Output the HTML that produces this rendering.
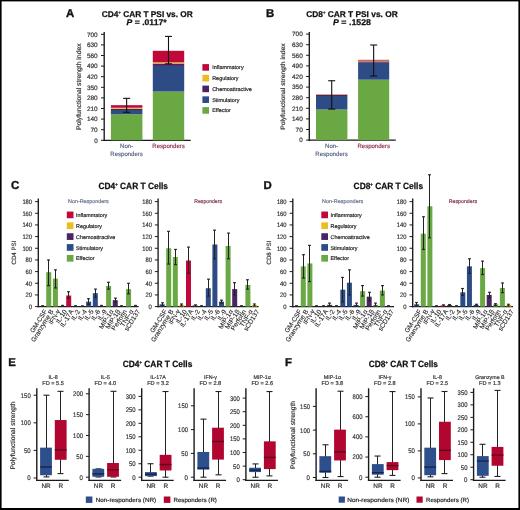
<!DOCTYPE html>
<html><head><meta charset="utf-8"><style>
html,body{margin:0;padding:0;background:#fff;}
svg{display:block;font-family:"Liberation Sans", sans-serif;will-change:transform;text-rendering:geometricPrecision;}
</style></head><body>
<svg width="520" height="510" viewBox="0 0 520 510">
<rect x="0" y="0" width="520" height="510" fill="#fff"/>
<text x="65.90" y="16.60" font-size="11.4" text-anchor="start" fill="#111" font-weight="bold" stroke="#111" stroke-width="0.35">A</text>
<text x="101.8" y="16.6" font-size="8.4" font-weight="bold" fill="#111" stroke="#111" stroke-width="0.25" textLength="91.0" lengthAdjust="spacingAndGlyphs">CD4<tspan font-size="4.20" dy="-2.52">+</tspan><tspan dy="2.52"> CAR T PSI vs. OR</tspan></text>
<text x="126.6" y="25.3" font-size="8.3" font-weight="bold" fill="#111" stroke="#111" stroke-width="0.25" textLength="40.0" lengthAdjust="spacingAndGlyphs"><tspan font-style="italic">P</tspan> = .0117*</text>
<line x1="104.20" y1="32.10" x2="104.20" y2="140.90" stroke="#1a1a1a" stroke-width="1.35"/>
<line x1="103.60" y1="140.30" x2="190.70" y2="140.30" stroke="#1a1a1a" stroke-width="1.25"/>
<line x1="101.00" y1="140.30" x2="104.20" y2="140.30" stroke="#1a1a1a" stroke-width="1.0"/>
<text x="97.70" y="142.60" font-size="6.3" text-anchor="end" fill="#333" textLength="3.5" lengthAdjust="spacingAndGlyphs" stroke="#333" stroke-width="0.18">0</text>
<line x1="101.00" y1="129.70" x2="104.20" y2="129.70" stroke="#1a1a1a" stroke-width="1.0"/>
<text x="97.70" y="132.00" font-size="6.3" text-anchor="end" fill="#333" textLength="7.2" lengthAdjust="spacingAndGlyphs" stroke="#333" stroke-width="0.18">70</text>
<line x1="101.00" y1="119.10" x2="104.20" y2="119.10" stroke="#1a1a1a" stroke-width="1.0"/>
<text x="97.70" y="121.40" font-size="6.3" text-anchor="end" fill="#333" textLength="10.8" lengthAdjust="spacingAndGlyphs" stroke="#333" stroke-width="0.18">140</text>
<line x1="101.00" y1="108.50" x2="104.20" y2="108.50" stroke="#1a1a1a" stroke-width="1.0"/>
<text x="97.70" y="110.80" font-size="6.3" text-anchor="end" fill="#333" textLength="10.8" lengthAdjust="spacingAndGlyphs" stroke="#333" stroke-width="0.18">210</text>
<line x1="101.00" y1="97.90" x2="104.20" y2="97.90" stroke="#1a1a1a" stroke-width="1.0"/>
<text x="97.70" y="100.20" font-size="6.3" text-anchor="end" fill="#333" textLength="10.8" lengthAdjust="spacingAndGlyphs" stroke="#333" stroke-width="0.18">280</text>
<line x1="101.00" y1="87.30" x2="104.20" y2="87.30" stroke="#1a1a1a" stroke-width="1.0"/>
<text x="97.70" y="89.60" font-size="6.3" text-anchor="end" fill="#333" textLength="10.8" lengthAdjust="spacingAndGlyphs" stroke="#333" stroke-width="0.18">350</text>
<line x1="101.00" y1="76.70" x2="104.20" y2="76.70" stroke="#1a1a1a" stroke-width="1.0"/>
<text x="97.70" y="79.00" font-size="6.3" text-anchor="end" fill="#333" textLength="10.8" lengthAdjust="spacingAndGlyphs" stroke="#333" stroke-width="0.18">420</text>
<line x1="101.00" y1="66.10" x2="104.20" y2="66.10" stroke="#1a1a1a" stroke-width="1.0"/>
<text x="97.70" y="68.40" font-size="6.3" text-anchor="end" fill="#333" textLength="10.8" lengthAdjust="spacingAndGlyphs" stroke="#333" stroke-width="0.18">490</text>
<line x1="101.00" y1="55.50" x2="104.20" y2="55.50" stroke="#1a1a1a" stroke-width="1.0"/>
<text x="97.70" y="57.80" font-size="6.3" text-anchor="end" fill="#333" textLength="10.8" lengthAdjust="spacingAndGlyphs" stroke="#333" stroke-width="0.18">560</text>
<line x1="101.00" y1="44.90" x2="104.20" y2="44.90" stroke="#1a1a1a" stroke-width="1.0"/>
<text x="97.70" y="47.20" font-size="6.3" text-anchor="end" fill="#333" textLength="10.8" lengthAdjust="spacingAndGlyphs" stroke="#333" stroke-width="0.18">630</text>
<line x1="101.00" y1="34.30" x2="104.20" y2="34.30" stroke="#1a1a1a" stroke-width="1.0"/>
<text x="97.70" y="36.60" font-size="6.3" text-anchor="end" fill="#333" textLength="10.8" lengthAdjust="spacingAndGlyphs" stroke="#333" stroke-width="0.18">700</text>
<rect x="110.90" y="114.25" width="31.50" height="26.05" fill="#69a843"/>
<rect x="110.90" y="110.01" width="31.50" height="4.24" fill="#2d4b84"/>
<rect x="110.90" y="108.80" width="31.50" height="1.21" fill="#4a2463"/>
<rect x="110.90" y="107.74" width="31.50" height="1.06" fill="#ecbd1f"/>
<rect x="110.90" y="105.17" width="31.50" height="2.57" fill="#c0083a"/>
<line x1="126.65" y1="98.35" x2="126.65" y2="112.29" stroke="#111" stroke-width="1.1"/>
<line x1="123.15" y1="98.35" x2="130.15" y2="98.35" stroke="#111" stroke-width="1.1"/>
<line x1="123.15" y1="112.29" x2="130.15" y2="112.29" stroke="#111" stroke-width="1.1"/>
<rect x="152.80" y="91.54" width="31.40" height="48.76" fill="#69a843"/>
<rect x="152.80" y="65.95" width="31.40" height="25.59" fill="#2d4b84"/>
<rect x="152.80" y="63.53" width="31.40" height="2.42" fill="#4a2463"/>
<rect x="152.80" y="62.31" width="31.40" height="1.21" fill="#ecbd1f"/>
<rect x="152.80" y="50.81" width="31.40" height="11.51" fill="#c0083a"/>
<line x1="168.50" y1="36.42" x2="168.50" y2="63.83" stroke="#111" stroke-width="1.1"/>
<line x1="165.00" y1="36.42" x2="172.00" y2="36.42" stroke="#111" stroke-width="1.1"/>
<line x1="165.00" y1="63.83" x2="172.00" y2="63.83" stroke="#111" stroke-width="1.1"/>
<text x="81.50" y="86.70" font-size="6.6" text-anchor="middle" fill="#333" textLength="86.5" lengthAdjust="spacingAndGlyphs" transform="rotate(-90 81.50 86.70)" stroke="#333" stroke-width="0.18">Polyfunctional strength index</text>
<text x="126.60" y="147.90" font-size="6.1" text-anchor="middle" fill="#5a6888" stroke="#5a6888" stroke-width="0.18">Non-</text>
<text x="126.60" y="156.40" font-size="6.1" text-anchor="middle" fill="#5a6888" textLength="32.5" lengthAdjust="spacingAndGlyphs" stroke="#5a6888" stroke-width="0.18">Responders</text>
<text x="168.60" y="147.90" font-size="6.1" text-anchor="middle" fill="#8e3458" textLength="32.5" lengthAdjust="spacingAndGlyphs" stroke="#8e3458" stroke-width="0.18">Responders</text>
<rect x="202.40" y="64.10" width="6.60" height="6.60" fill="#c0083a"/>
<text x="212.20" y="69.40" font-size="5.45" text-anchor="start" fill="#222" stroke="#222" stroke-width="0.18">Inflammatory</text>
<rect x="202.40" y="74.85" width="6.60" height="6.60" fill="#ecbd1f"/>
<text x="212.20" y="80.15" font-size="5.45" text-anchor="start" fill="#222" stroke="#222" stroke-width="0.18">Regulatory</text>
<rect x="202.40" y="85.60" width="6.60" height="6.60" fill="#4a2463"/>
<text x="212.20" y="90.90" font-size="5.45" text-anchor="start" fill="#222" stroke="#222" stroke-width="0.18">Chemoattractive</text>
<rect x="202.40" y="96.35" width="6.60" height="6.60" fill="#2d4b84"/>
<text x="212.20" y="101.65" font-size="5.45" text-anchor="start" fill="#222" stroke="#222" stroke-width="0.18">Stimulatory</text>
<rect x="202.40" y="107.10" width="6.60" height="6.60" fill="#69a843"/>
<text x="212.20" y="112.40" font-size="5.45" text-anchor="start" fill="#222" stroke="#222" stroke-width="0.18">Effector</text>
<text x="266.10" y="16.60" font-size="11.4" text-anchor="start" fill="#111" font-weight="bold" stroke="#111" stroke-width="0.35">B</text>
<text x="306.2" y="16.6" font-size="8.4" font-weight="bold" fill="#111" stroke="#111" stroke-width="0.25" textLength="91.5" lengthAdjust="spacingAndGlyphs">CD8<tspan font-size="4.20" dy="-2.52">+</tspan><tspan dy="2.52"> CAR T PSI vs. OR</tspan></text>
<text x="333.0" y="25.3" font-size="8.3" font-weight="bold" fill="#111" stroke="#111" stroke-width="0.25" textLength="38.0" lengthAdjust="spacingAndGlyphs"><tspan font-style="italic">P</tspan> = .1528</text>
<line x1="309.30" y1="32.10" x2="309.30" y2="140.70" stroke="#1a1a1a" stroke-width="1.35"/>
<line x1="308.70" y1="140.10" x2="395.80" y2="140.10" stroke="#1a1a1a" stroke-width="1.25"/>
<line x1="306.10" y1="140.10" x2="309.30" y2="140.10" stroke="#1a1a1a" stroke-width="1.0"/>
<text x="302.80" y="142.40" font-size="6.3" text-anchor="end" fill="#333" textLength="3.5" lengthAdjust="spacingAndGlyphs" stroke="#333" stroke-width="0.18">0</text>
<line x1="306.10" y1="129.50" x2="309.30" y2="129.50" stroke="#1a1a1a" stroke-width="1.0"/>
<text x="302.80" y="131.80" font-size="6.3" text-anchor="end" fill="#333" textLength="7.2" lengthAdjust="spacingAndGlyphs" stroke="#333" stroke-width="0.18">70</text>
<line x1="306.10" y1="118.90" x2="309.30" y2="118.90" stroke="#1a1a1a" stroke-width="1.0"/>
<text x="302.80" y="121.20" font-size="6.3" text-anchor="end" fill="#333" textLength="10.8" lengthAdjust="spacingAndGlyphs" stroke="#333" stroke-width="0.18">140</text>
<line x1="306.10" y1="108.30" x2="309.30" y2="108.30" stroke="#1a1a1a" stroke-width="1.0"/>
<text x="302.80" y="110.60" font-size="6.3" text-anchor="end" fill="#333" textLength="10.8" lengthAdjust="spacingAndGlyphs" stroke="#333" stroke-width="0.18">210</text>
<line x1="306.10" y1="97.70" x2="309.30" y2="97.70" stroke="#1a1a1a" stroke-width="1.0"/>
<text x="302.80" y="100.00" font-size="6.3" text-anchor="end" fill="#333" textLength="10.8" lengthAdjust="spacingAndGlyphs" stroke="#333" stroke-width="0.18">280</text>
<line x1="306.10" y1="87.10" x2="309.30" y2="87.10" stroke="#1a1a1a" stroke-width="1.0"/>
<text x="302.80" y="89.40" font-size="6.3" text-anchor="end" fill="#333" textLength="10.8" lengthAdjust="spacingAndGlyphs" stroke="#333" stroke-width="0.18">350</text>
<line x1="306.10" y1="76.50" x2="309.30" y2="76.50" stroke="#1a1a1a" stroke-width="1.0"/>
<text x="302.80" y="78.80" font-size="6.3" text-anchor="end" fill="#333" textLength="10.8" lengthAdjust="spacingAndGlyphs" stroke="#333" stroke-width="0.18">420</text>
<line x1="306.10" y1="65.90" x2="309.30" y2="65.90" stroke="#1a1a1a" stroke-width="1.0"/>
<text x="302.80" y="68.20" font-size="6.3" text-anchor="end" fill="#333" textLength="10.8" lengthAdjust="spacingAndGlyphs" stroke="#333" stroke-width="0.18">490</text>
<line x1="306.10" y1="55.30" x2="309.30" y2="55.30" stroke="#1a1a1a" stroke-width="1.0"/>
<text x="302.80" y="57.60" font-size="6.3" text-anchor="end" fill="#333" textLength="10.8" lengthAdjust="spacingAndGlyphs" stroke="#333" stroke-width="0.18">560</text>
<line x1="306.10" y1="44.70" x2="309.30" y2="44.70" stroke="#1a1a1a" stroke-width="1.0"/>
<text x="302.80" y="47.00" font-size="6.3" text-anchor="end" fill="#333" textLength="10.8" lengthAdjust="spacingAndGlyphs" stroke="#333" stroke-width="0.18">630</text>
<line x1="306.10" y1="34.10" x2="309.30" y2="34.10" stroke="#1a1a1a" stroke-width="1.0"/>
<text x="302.80" y="36.40" font-size="6.3" text-anchor="end" fill="#333" textLength="10.8" lengthAdjust="spacingAndGlyphs" stroke="#333" stroke-width="0.18">700</text>
<rect x="316.00" y="109.51" width="31.40" height="30.59" fill="#69a843"/>
<rect x="316.00" y="96.03" width="31.40" height="13.48" fill="#2d4b84"/>
<rect x="316.00" y="94.97" width="31.40" height="1.06" fill="#4a2463"/>
<rect x="316.00" y="94.67" width="31.40" height="0.30" fill="#ecbd1f"/>
<rect x="316.00" y="94.37" width="31.40" height="0.30" fill="#c0083a"/>
<line x1="331.70" y1="80.74" x2="331.70" y2="109.06" stroke="#111" stroke-width="1.1"/>
<line x1="328.20" y1="80.74" x2="335.20" y2="80.74" stroke="#111" stroke-width="1.1"/>
<line x1="328.20" y1="109.06" x2="335.20" y2="109.06" stroke="#111" stroke-width="1.1"/>
<rect x="358.10" y="79.68" width="31.10" height="60.42" fill="#69a843"/>
<rect x="358.10" y="62.72" width="31.10" height="16.96" fill="#2d4b84"/>
<rect x="358.10" y="61.36" width="31.10" height="1.36" fill="#4a2463"/>
<rect x="358.10" y="60.60" width="31.10" height="0.76" fill="#ecbd1f"/>
<rect x="358.10" y="59.84" width="31.10" height="0.76" fill="#c0083a"/>
<line x1="373.65" y1="45.00" x2="373.65" y2="76.05" stroke="#111" stroke-width="1.1"/>
<line x1="370.15" y1="45.00" x2="377.15" y2="45.00" stroke="#111" stroke-width="1.1"/>
<line x1="370.15" y1="76.05" x2="377.15" y2="76.05" stroke="#111" stroke-width="1.1"/>
<text x="285.50" y="86.60" font-size="6.3" text-anchor="middle" fill="#333" textLength="86.5" lengthAdjust="spacingAndGlyphs" transform="rotate(-90 285.50 86.60)" stroke="#333" stroke-width="0.18">Polyfunctional strength index</text>
<text x="331.60" y="147.90" font-size="6.1" text-anchor="middle" fill="#5a6888" stroke="#5a6888" stroke-width="0.18">Non-</text>
<text x="331.60" y="156.40" font-size="6.1" text-anchor="middle" fill="#5a6888" textLength="32.5" lengthAdjust="spacingAndGlyphs" stroke="#5a6888" stroke-width="0.18">Responders</text>
<text x="373.70" y="147.90" font-size="6.1" text-anchor="middle" fill="#8e3458" textLength="32.5" lengthAdjust="spacingAndGlyphs" stroke="#8e3458" stroke-width="0.18">Responders</text>
<text x="11.10" y="188.80" font-size="11.4" text-anchor="start" fill="#111" font-weight="bold" stroke="#111" stroke-width="0.35">C</text>
<text x="98.5" y="189.1" font-size="9.0" font-weight="bold" fill="#111" stroke="#111" stroke-width="0.25" textLength="69.5" lengthAdjust="spacingAndGlyphs">CD4<tspan font-size="4.50" dy="-2.70">+</tspan><tspan dy="2.70"> CAR T Cells</tspan></text>
<line x1="38.30" y1="198.50" x2="38.30" y2="307.20" stroke="#1a1a1a" stroke-width="1.35"/>
<line x1="37.70" y1="306.60" x2="138.60" y2="306.60" stroke="#1a1a1a" stroke-width="1.35"/>
<line x1="35.10" y1="306.60" x2="38.30" y2="306.60" stroke="#1a1a1a" stroke-width="1.0"/>
<text x="32.10" y="308.90" font-size="6.4" text-anchor="end" fill="#333" textLength="3.3" lengthAdjust="spacingAndGlyphs" stroke="#333" stroke-width="0.18">0</text>
<line x1="35.10" y1="294.93" x2="38.30" y2="294.93" stroke="#1a1a1a" stroke-width="1.0"/>
<text x="32.10" y="297.23" font-size="6.4" text-anchor="end" fill="#333" textLength="6.5" lengthAdjust="spacingAndGlyphs" stroke="#333" stroke-width="0.18">20</text>
<line x1="35.10" y1="283.27" x2="38.30" y2="283.27" stroke="#1a1a1a" stroke-width="1.0"/>
<text x="32.10" y="285.57" font-size="6.4" text-anchor="end" fill="#333" textLength="6.5" lengthAdjust="spacingAndGlyphs" stroke="#333" stroke-width="0.18">40</text>
<line x1="35.10" y1="271.60" x2="38.30" y2="271.60" stroke="#1a1a1a" stroke-width="1.0"/>
<text x="32.10" y="273.90" font-size="6.4" text-anchor="end" fill="#333" textLength="6.5" lengthAdjust="spacingAndGlyphs" stroke="#333" stroke-width="0.18">60</text>
<line x1="35.10" y1="259.94" x2="38.30" y2="259.94" stroke="#1a1a1a" stroke-width="1.0"/>
<text x="32.10" y="262.24" font-size="6.4" text-anchor="end" fill="#333" textLength="6.5" lengthAdjust="spacingAndGlyphs" stroke="#333" stroke-width="0.18">80</text>
<line x1="35.10" y1="248.27" x2="38.30" y2="248.27" stroke="#1a1a1a" stroke-width="1.0"/>
<text x="32.10" y="250.57" font-size="6.4" text-anchor="end" fill="#333" textLength="9.7" lengthAdjust="spacingAndGlyphs" stroke="#333" stroke-width="0.18">100</text>
<line x1="35.10" y1="236.60" x2="38.30" y2="236.60" stroke="#1a1a1a" stroke-width="1.0"/>
<text x="32.10" y="238.90" font-size="6.4" text-anchor="end" fill="#333" textLength="9.7" lengthAdjust="spacingAndGlyphs" stroke="#333" stroke-width="0.18">120</text>
<line x1="35.10" y1="224.94" x2="38.30" y2="224.94" stroke="#1a1a1a" stroke-width="1.0"/>
<text x="32.10" y="227.24" font-size="6.4" text-anchor="end" fill="#333" textLength="9.7" lengthAdjust="spacingAndGlyphs" stroke="#333" stroke-width="0.18">140</text>
<line x1="35.10" y1="213.27" x2="38.30" y2="213.27" stroke="#1a1a1a" stroke-width="1.0"/>
<text x="32.10" y="215.57" font-size="6.4" text-anchor="end" fill="#333" textLength="9.7" lengthAdjust="spacingAndGlyphs" stroke="#333" stroke-width="0.18">160</text>
<line x1="35.10" y1="201.61" x2="38.30" y2="201.61" stroke="#1a1a1a" stroke-width="1.0"/>
<text x="32.10" y="203.91" font-size="6.4" text-anchor="end" fill="#333" textLength="9.7" lengthAdjust="spacingAndGlyphs" stroke="#333" stroke-width="0.18">180</text>
<rect x="39.60" y="306.13" width="5.00" height="0.47" fill="#333"/>
<line x1="42.50" y1="305.73" x2="42.50" y2="306.60" stroke="#222" stroke-width="1.0"/>
<line x1="41.10" y1="305.73" x2="43.90" y2="305.73" stroke="#222" stroke-width="1.2"/>
<text x="47.30" y="311.30" font-size="6.6" text-anchor="end" fill="#2a2a2a" transform="rotate(-58 47.30 311.30)" stroke="#2a2a2a" stroke-width="0.12">GM-CSF</text>
<rect x="46.25" y="272.19" width="5.00" height="34.41" fill="#69a843"/>
<line x1="48.50" y1="259.94" x2="48.50" y2="285.60" stroke="#222" stroke-width="1.0"/>
<line x1="47.10" y1="259.94" x2="49.90" y2="259.94" stroke="#222" stroke-width="1.2"/>
<line x1="47.10" y1="285.60" x2="49.90" y2="285.60" stroke="#222" stroke-width="1.2"/>
<text x="53.95" y="311.30" font-size="6.6" text-anchor="end" fill="#2a2a2a" transform="rotate(-58 53.95 311.30)" stroke="#2a2a2a" stroke-width="0.12">Granzyme B</text>
<rect x="52.90" y="278.60" width="5.00" height="28.00" fill="#69a843"/>
<line x1="55.50" y1="269.85" x2="55.50" y2="287.93" stroke="#222" stroke-width="1.0"/>
<line x1="54.10" y1="269.85" x2="56.90" y2="269.85" stroke="#222" stroke-width="1.2"/>
<line x1="54.10" y1="287.93" x2="56.90" y2="287.93" stroke="#222" stroke-width="1.2"/>
<text x="60.60" y="311.30" font-size="6.6" text-anchor="end" fill="#2a2a2a" transform="rotate(-58 60.60 311.30)" stroke="#2a2a2a" stroke-width="0.12">IFN-γ</text>
<rect x="59.55" y="306.02" width="5.00" height="0.58" fill="#333"/>
<line x1="62.50" y1="305.43" x2="62.50" y2="306.60" stroke="#222" stroke-width="1.0"/>
<line x1="61.10" y1="305.43" x2="63.90" y2="305.43" stroke="#222" stroke-width="1.2"/>
<text x="67.25" y="311.30" font-size="6.6" text-anchor="end" fill="#2a2a2a" transform="rotate(-58 67.25 311.30)" stroke="#2a2a2a" stroke-width="0.12">IL-10</text>
<rect x="66.20" y="295.52" width="5.00" height="11.08" fill="#c0083a"/>
<line x1="68.50" y1="291.73" x2="68.50" y2="298.43" stroke="#222" stroke-width="1.0"/>
<line x1="67.10" y1="291.73" x2="69.90" y2="291.73" stroke="#222" stroke-width="1.2"/>
<line x1="67.10" y1="298.43" x2="69.90" y2="298.43" stroke="#222" stroke-width="1.2"/>
<text x="73.90" y="311.30" font-size="6.6" text-anchor="end" fill="#2a2a2a" transform="rotate(-58 73.90 311.30)" stroke="#2a2a2a" stroke-width="0.12">IL-17A</text>
<rect x="72.85" y="306.02" width="5.00" height="0.58" fill="#333"/>
<line x1="75.50" y1="305.73" x2="75.50" y2="306.60" stroke="#222" stroke-width="1.0"/>
<line x1="74.10" y1="305.73" x2="76.90" y2="305.73" stroke="#222" stroke-width="1.2"/>
<text x="80.55" y="311.30" font-size="6.6" text-anchor="end" fill="#2a2a2a" transform="rotate(-58 80.55 311.30)" stroke="#2a2a2a" stroke-width="0.12">IL-2</text>
<rect x="79.50" y="306.13" width="5.00" height="0.47" fill="#333"/>
<line x1="82.50" y1="305.90" x2="82.50" y2="306.60" stroke="#222" stroke-width="1.0"/>
<line x1="81.10" y1="305.90" x2="83.90" y2="305.90" stroke="#222" stroke-width="1.2"/>
<text x="87.20" y="311.30" font-size="6.6" text-anchor="end" fill="#2a2a2a" transform="rotate(-58 87.20 311.30)" stroke="#2a2a2a" stroke-width="0.12">IL-4</text>
<rect x="86.15" y="301.64" width="5.00" height="4.96" fill="#2d4b84"/>
<line x1="88.50" y1="298.73" x2="88.50" y2="304.27" stroke="#222" stroke-width="1.0"/>
<line x1="87.10" y1="298.73" x2="89.90" y2="298.73" stroke="#222" stroke-width="1.2"/>
<line x1="87.10" y1="304.27" x2="89.90" y2="304.27" stroke="#222" stroke-width="1.2"/>
<text x="93.85" y="311.30" font-size="6.6" text-anchor="end" fill="#2a2a2a" transform="rotate(-58 93.85 311.30)" stroke="#2a2a2a" stroke-width="0.12">IL-5</text>
<rect x="92.80" y="293.18" width="5.00" height="13.42" fill="#2d4b84"/>
<line x1="95.50" y1="289.10" x2="95.50" y2="297.27" stroke="#222" stroke-width="1.0"/>
<line x1="94.10" y1="289.10" x2="96.90" y2="289.10" stroke="#222" stroke-width="1.2"/>
<line x1="94.10" y1="297.27" x2="96.90" y2="297.27" stroke="#222" stroke-width="1.2"/>
<text x="100.50" y="311.30" font-size="6.6" text-anchor="end" fill="#2a2a2a" transform="rotate(-58 100.50 311.30)" stroke="#2a2a2a" stroke-width="0.12">IL-6</text>
<rect x="99.45" y="306.02" width="5.00" height="0.58" fill="#333"/>
<line x1="101.50" y1="305.43" x2="101.50" y2="306.60" stroke="#222" stroke-width="1.0"/>
<line x1="100.10" y1="305.43" x2="102.90" y2="305.43" stroke="#222" stroke-width="1.2"/>
<text x="107.15" y="311.30" font-size="6.6" text-anchor="end" fill="#2a2a2a" transform="rotate(-58 107.15 311.30)" stroke="#2a2a2a" stroke-width="0.12">IL-9</text>
<rect x="106.10" y="285.95" width="5.00" height="20.65" fill="#69a843"/>
<line x1="108.50" y1="282.28" x2="108.50" y2="289.10" stroke="#222" stroke-width="1.0"/>
<line x1="107.10" y1="282.28" x2="109.90" y2="282.28" stroke="#222" stroke-width="1.2"/>
<line x1="107.10" y1="289.10" x2="109.90" y2="289.10" stroke="#222" stroke-width="1.2"/>
<text x="113.80" y="311.30" font-size="6.6" text-anchor="end" fill="#2a2a2a" transform="rotate(-58 113.80 311.30)" stroke="#2a2a2a" stroke-width="0.12">MIP-1α</text>
<rect x="112.75" y="300.18" width="5.00" height="6.42" fill="#4a2463"/>
<line x1="115.50" y1="298.14" x2="115.50" y2="301.93" stroke="#222" stroke-width="1.0"/>
<line x1="114.10" y1="298.14" x2="116.90" y2="298.14" stroke="#222" stroke-width="1.2"/>
<line x1="114.10" y1="301.93" x2="116.90" y2="301.93" stroke="#222" stroke-width="1.2"/>
<text x="120.45" y="311.30" font-size="6.6" text-anchor="end" fill="#2a2a2a" transform="rotate(-58 120.45 311.30)" stroke="#2a2a2a" stroke-width="0.12">MIP-1β</text>
<rect x="119.40" y="306.13" width="5.00" height="0.47" fill="#333"/>
<line x1="121.50" y1="305.73" x2="121.50" y2="306.60" stroke="#222" stroke-width="1.0"/>
<line x1="120.10" y1="305.73" x2="122.90" y2="305.73" stroke="#222" stroke-width="1.2"/>
<text x="127.10" y="311.30" font-size="6.6" text-anchor="end" fill="#2a2a2a" transform="rotate(-58 127.10 311.30)" stroke="#2a2a2a" stroke-width="0.12">Perforin</text>
<rect x="126.05" y="289.10" width="5.00" height="17.50" fill="#69a843"/>
<line x1="128.50" y1="283.27" x2="128.50" y2="293.77" stroke="#222" stroke-width="1.0"/>
<line x1="127.10" y1="283.27" x2="129.90" y2="283.27" stroke="#222" stroke-width="1.2"/>
<line x1="127.10" y1="293.77" x2="129.90" y2="293.77" stroke="#222" stroke-width="1.2"/>
<text x="133.75" y="311.30" font-size="6.6" text-anchor="end" fill="#2a2a2a" transform="rotate(-58 133.75 311.30)" stroke="#2a2a2a" stroke-width="0.12">TNF-α</text>
<rect x="132.70" y="306.02" width="5.00" height="0.58" fill="#333"/>
<line x1="135.50" y1="305.43" x2="135.50" y2="306.60" stroke="#222" stroke-width="1.0"/>
<line x1="134.10" y1="305.43" x2="136.90" y2="305.43" stroke="#222" stroke-width="1.2"/>
<text x="140.40" y="311.30" font-size="6.6" text-anchor="end" fill="#2a2a2a" transform="rotate(-58 140.40 311.30)" stroke="#2a2a2a" stroke-width="0.12">sCD137</text>
<text x="15.60" y="252.60" font-size="6.2" text-anchor="middle" fill="#3a3a3a" textLength="23.8" lengthAdjust="spacingAndGlyphs" transform="rotate(-90 15.60 252.60)" stroke="#3a3a3a" stroke-width="0.18">CD4 PSI</text>
<line x1="158.10" y1="198.50" x2="158.10" y2="307.20" stroke="#1a1a1a" stroke-width="1.35"/>
<line x1="157.50" y1="306.60" x2="258.60" y2="306.60" stroke="#1a1a1a" stroke-width="1.35"/>
<line x1="154.90" y1="306.60" x2="158.10" y2="306.60" stroke="#1a1a1a" stroke-width="1.0"/>
<text x="151.90" y="308.90" font-size="6.4" text-anchor="end" fill="#333" textLength="3.3" lengthAdjust="spacingAndGlyphs" stroke="#333" stroke-width="0.18">0</text>
<line x1="154.90" y1="294.93" x2="158.10" y2="294.93" stroke="#1a1a1a" stroke-width="1.0"/>
<text x="151.90" y="297.23" font-size="6.4" text-anchor="end" fill="#333" textLength="6.5" lengthAdjust="spacingAndGlyphs" stroke="#333" stroke-width="0.18">20</text>
<line x1="154.90" y1="283.27" x2="158.10" y2="283.27" stroke="#1a1a1a" stroke-width="1.0"/>
<text x="151.90" y="285.57" font-size="6.4" text-anchor="end" fill="#333" textLength="6.5" lengthAdjust="spacingAndGlyphs" stroke="#333" stroke-width="0.18">40</text>
<line x1="154.90" y1="271.60" x2="158.10" y2="271.60" stroke="#1a1a1a" stroke-width="1.0"/>
<text x="151.90" y="273.90" font-size="6.4" text-anchor="end" fill="#333" textLength="6.5" lengthAdjust="spacingAndGlyphs" stroke="#333" stroke-width="0.18">60</text>
<line x1="154.90" y1="259.94" x2="158.10" y2="259.94" stroke="#1a1a1a" stroke-width="1.0"/>
<text x="151.90" y="262.24" font-size="6.4" text-anchor="end" fill="#333" textLength="6.5" lengthAdjust="spacingAndGlyphs" stroke="#333" stroke-width="0.18">80</text>
<line x1="154.90" y1="248.27" x2="158.10" y2="248.27" stroke="#1a1a1a" stroke-width="1.0"/>
<text x="151.90" y="250.57" font-size="6.4" text-anchor="end" fill="#333" textLength="9.7" lengthAdjust="spacingAndGlyphs" stroke="#333" stroke-width="0.18">100</text>
<line x1="154.90" y1="236.60" x2="158.10" y2="236.60" stroke="#1a1a1a" stroke-width="1.0"/>
<text x="151.90" y="238.90" font-size="6.4" text-anchor="end" fill="#333" textLength="9.7" lengthAdjust="spacingAndGlyphs" stroke="#333" stroke-width="0.18">120</text>
<line x1="154.90" y1="224.94" x2="158.10" y2="224.94" stroke="#1a1a1a" stroke-width="1.0"/>
<text x="151.90" y="227.24" font-size="6.4" text-anchor="end" fill="#333" textLength="9.7" lengthAdjust="spacingAndGlyphs" stroke="#333" stroke-width="0.18">140</text>
<line x1="154.90" y1="213.27" x2="158.10" y2="213.27" stroke="#1a1a1a" stroke-width="1.0"/>
<text x="151.90" y="215.57" font-size="6.4" text-anchor="end" fill="#333" textLength="9.7" lengthAdjust="spacingAndGlyphs" stroke="#333" stroke-width="0.18">160</text>
<line x1="154.90" y1="201.61" x2="158.10" y2="201.61" stroke="#1a1a1a" stroke-width="1.0"/>
<text x="151.90" y="203.91" font-size="6.4" text-anchor="end" fill="#333" textLength="9.7" lengthAdjust="spacingAndGlyphs" stroke="#333" stroke-width="0.18">180</text>
<rect x="159.60" y="304.27" width="5.00" height="2.33" fill="#2d4b84"/>
<line x1="162.50" y1="302.81" x2="162.50" y2="305.73" stroke="#222" stroke-width="1.0"/>
<line x1="161.10" y1="302.81" x2="163.90" y2="302.81" stroke="#222" stroke-width="1.2"/>
<line x1="161.10" y1="305.73" x2="163.90" y2="305.73" stroke="#222" stroke-width="1.2"/>
<text x="167.30" y="311.30" font-size="6.6" text-anchor="end" fill="#2a2a2a" transform="rotate(-58 167.30 311.30)" stroke="#2a2a2a" stroke-width="0.12">GM-CSF</text>
<rect x="166.20" y="248.27" width="5.00" height="58.33" fill="#69a843"/>
<line x1="168.50" y1="231.35" x2="168.50" y2="264.02" stroke="#222" stroke-width="1.0"/>
<line x1="167.10" y1="231.35" x2="169.90" y2="231.35" stroke="#222" stroke-width="1.2"/>
<line x1="167.10" y1="264.02" x2="169.90" y2="264.02" stroke="#222" stroke-width="1.2"/>
<text x="173.90" y="311.30" font-size="6.6" text-anchor="end" fill="#2a2a2a" transform="rotate(-58 173.90 311.30)" stroke="#2a2a2a" stroke-width="0.12">Granzyme B</text>
<rect x="172.80" y="257.02" width="5.00" height="49.58" fill="#69a843"/>
<line x1="175.50" y1="249.44" x2="175.50" y2="264.60" stroke="#222" stroke-width="1.0"/>
<line x1="174.10" y1="249.44" x2="176.90" y2="249.44" stroke="#222" stroke-width="1.2"/>
<line x1="174.10" y1="264.60" x2="176.90" y2="264.60" stroke="#222" stroke-width="1.2"/>
<text x="180.50" y="311.30" font-size="6.6" text-anchor="end" fill="#2a2a2a" transform="rotate(-58 180.50 311.30)" stroke="#2a2a2a" stroke-width="0.12">IFN-γ</text>
<rect x="179.40" y="304.85" width="5.00" height="1.75" fill="#ecbd1f"/>
<line x1="181.50" y1="303.98" x2="181.50" y2="306.02" stroke="#222" stroke-width="1.0"/>
<line x1="180.10" y1="303.98" x2="182.90" y2="303.98" stroke="#222" stroke-width="1.2"/>
<line x1="180.10" y1="306.02" x2="182.90" y2="306.02" stroke="#222" stroke-width="1.2"/>
<text x="187.10" y="311.30" font-size="6.6" text-anchor="end" fill="#2a2a2a" transform="rotate(-58 187.10 311.30)" stroke="#2a2a2a" stroke-width="0.12">IL-10</text>
<rect x="186.00" y="260.52" width="5.00" height="46.08" fill="#c0083a"/>
<line x1="188.50" y1="247.10" x2="188.50" y2="273.35" stroke="#222" stroke-width="1.0"/>
<line x1="187.10" y1="247.10" x2="189.90" y2="247.10" stroke="#222" stroke-width="1.2"/>
<line x1="187.10" y1="273.35" x2="189.90" y2="273.35" stroke="#222" stroke-width="1.2"/>
<text x="193.70" y="311.30" font-size="6.6" text-anchor="end" fill="#2a2a2a" transform="rotate(-58 193.70 311.30)" stroke="#2a2a2a" stroke-width="0.12">IL-17A</text>
<rect x="192.60" y="305.43" width="5.00" height="1.17" fill="#333"/>
<line x1="195.50" y1="304.85" x2="195.50" y2="306.31" stroke="#222" stroke-width="1.0"/>
<line x1="194.10" y1="304.85" x2="196.90" y2="304.85" stroke="#222" stroke-width="1.2"/>
<text x="200.30" y="311.30" font-size="6.6" text-anchor="end" fill="#2a2a2a" transform="rotate(-58 200.30 311.30)" stroke="#2a2a2a" stroke-width="0.12">IL-2</text>
<rect x="199.20" y="306.02" width="5.00" height="0.58" fill="#333"/>
<line x1="201.50" y1="305.73" x2="201.50" y2="306.60" stroke="#222" stroke-width="1.0"/>
<line x1="200.10" y1="305.73" x2="202.90" y2="305.73" stroke="#222" stroke-width="1.2"/>
<text x="206.90" y="311.30" font-size="6.6" text-anchor="end" fill="#2a2a2a" transform="rotate(-58 206.90 311.30)" stroke="#2a2a2a" stroke-width="0.12">IL-4</text>
<rect x="205.80" y="288.23" width="5.00" height="18.37" fill="#2d4b84"/>
<line x1="208.50" y1="279.18" x2="208.50" y2="296.10" stroke="#222" stroke-width="1.0"/>
<line x1="207.10" y1="279.18" x2="209.90" y2="279.18" stroke="#222" stroke-width="1.2"/>
<line x1="207.10" y1="296.10" x2="209.90" y2="296.10" stroke="#222" stroke-width="1.2"/>
<text x="213.50" y="311.30" font-size="6.6" text-anchor="end" fill="#2a2a2a" transform="rotate(-58 213.50 311.30)" stroke="#2a2a2a" stroke-width="0.12">IL-5</text>
<rect x="212.40" y="244.48" width="5.00" height="62.12" fill="#2d4b84"/>
<line x1="214.50" y1="230.19" x2="214.50" y2="258.77" stroke="#222" stroke-width="1.0"/>
<line x1="213.10" y1="230.19" x2="215.90" y2="230.19" stroke="#222" stroke-width="1.2"/>
<line x1="213.10" y1="258.77" x2="215.90" y2="258.77" stroke="#222" stroke-width="1.2"/>
<text x="220.10" y="311.30" font-size="6.6" text-anchor="end" fill="#2a2a2a" transform="rotate(-58 220.10 311.30)" stroke="#2a2a2a" stroke-width="0.12">IL-6</text>
<rect x="219.00" y="301.64" width="5.00" height="4.96" fill="#2d4b84"/>
<line x1="221.50" y1="300.18" x2="221.50" y2="303.10" stroke="#222" stroke-width="1.0"/>
<line x1="220.10" y1="300.18" x2="222.90" y2="300.18" stroke="#222" stroke-width="1.2"/>
<line x1="220.10" y1="303.10" x2="222.90" y2="303.10" stroke="#222" stroke-width="1.2"/>
<text x="226.70" y="311.30" font-size="6.6" text-anchor="end" fill="#2a2a2a" transform="rotate(-58 226.70 311.30)" stroke="#2a2a2a" stroke-width="0.12">IL-9</text>
<rect x="225.60" y="245.94" width="5.00" height="60.66" fill="#69a843"/>
<line x1="228.50" y1="233.10" x2="228.50" y2="258.77" stroke="#222" stroke-width="1.0"/>
<line x1="227.10" y1="233.10" x2="229.90" y2="233.10" stroke="#222" stroke-width="1.2"/>
<line x1="227.10" y1="258.77" x2="229.90" y2="258.77" stroke="#222" stroke-width="1.2"/>
<text x="233.30" y="311.30" font-size="6.6" text-anchor="end" fill="#2a2a2a" transform="rotate(-58 233.30 311.30)" stroke="#2a2a2a" stroke-width="0.12">MIP-1α</text>
<rect x="232.20" y="289.10" width="5.00" height="17.50" fill="#4a2463"/>
<line x1="234.50" y1="282.68" x2="234.50" y2="294.93" stroke="#222" stroke-width="1.0"/>
<line x1="233.10" y1="282.68" x2="235.90" y2="282.68" stroke="#222" stroke-width="1.2"/>
<line x1="233.10" y1="294.93" x2="235.90" y2="294.93" stroke="#222" stroke-width="1.2"/>
<text x="239.90" y="311.30" font-size="6.6" text-anchor="end" fill="#2a2a2a" transform="rotate(-58 239.90 311.30)" stroke="#2a2a2a" stroke-width="0.12">MIP-1β</text>
<rect x="238.80" y="306.02" width="5.00" height="0.58" fill="#333"/>
<line x1="241.50" y1="305.73" x2="241.50" y2="306.60" stroke="#222" stroke-width="1.0"/>
<line x1="240.10" y1="305.73" x2="242.90" y2="305.73" stroke="#222" stroke-width="1.2"/>
<text x="246.50" y="311.30" font-size="6.6" text-anchor="end" fill="#2a2a2a" transform="rotate(-58 246.50 311.30)" stroke="#2a2a2a" stroke-width="0.12">Perforin</text>
<rect x="245.40" y="285.02" width="5.00" height="21.58" fill="#69a843"/>
<line x1="247.50" y1="279.77" x2="247.50" y2="289.10" stroke="#222" stroke-width="1.0"/>
<line x1="246.10" y1="279.77" x2="248.90" y2="279.77" stroke="#222" stroke-width="1.2"/>
<line x1="246.10" y1="289.10" x2="248.90" y2="289.10" stroke="#222" stroke-width="1.2"/>
<text x="253.10" y="311.30" font-size="6.6" text-anchor="end" fill="#2a2a2a" transform="rotate(-58 253.10 311.30)" stroke="#2a2a2a" stroke-width="0.12">TNF-α</text>
<rect x="252.00" y="304.85" width="5.00" height="1.75" fill="#ecbd1f"/>
<line x1="254.50" y1="303.98" x2="254.50" y2="306.02" stroke="#222" stroke-width="1.0"/>
<line x1="253.10" y1="303.98" x2="255.90" y2="303.98" stroke="#222" stroke-width="1.2"/>
<line x1="253.10" y1="306.02" x2="255.90" y2="306.02" stroke="#222" stroke-width="1.2"/>
<text x="259.70" y="311.30" font-size="6.6" text-anchor="end" fill="#2a2a2a" transform="rotate(-58 259.70 311.30)" stroke="#2a2a2a" stroke-width="0.12">sCD137</text>
<text x="68.00" y="203.20" font-size="5.3" text-anchor="start" fill="#66708e" textLength="40.7" lengthAdjust="spacingAndGlyphs" stroke="#66708e" stroke-width="0.18">Non-Responders</text>
<text x="194.30" y="203.00" font-size="5.3" text-anchor="start" fill="#80304e" textLength="27.7" lengthAdjust="spacingAndGlyphs" stroke="#80304e" stroke-width="0.18">Responders</text>
<rect x="66.80" y="211.55" width="6.70" height="6.70" fill="#c0083a"/>
<text x="76.00" y="217.00" font-size="5.4" text-anchor="start" fill="#222" stroke="#222" stroke-width="0.18">Inflammatory</text>
<rect x="66.80" y="222.40" width="6.70" height="6.70" fill="#ecbd1f"/>
<text x="76.00" y="227.85" font-size="5.4" text-anchor="start" fill="#222" stroke="#222" stroke-width="0.18">Regulatory</text>
<rect x="66.80" y="233.25" width="6.70" height="6.70" fill="#4a2463"/>
<text x="76.00" y="238.70" font-size="5.4" text-anchor="start" fill="#222" stroke="#222" stroke-width="0.18">Chemoattractive</text>
<rect x="66.80" y="244.10" width="6.70" height="6.70" fill="#2d4b84"/>
<text x="76.00" y="249.55" font-size="5.4" text-anchor="start" fill="#222" stroke="#222" stroke-width="0.18">Stimulatory</text>
<rect x="66.80" y="254.95" width="6.70" height="6.70" fill="#69a843"/>
<text x="76.00" y="260.40" font-size="5.4" text-anchor="start" fill="#222" stroke="#222" stroke-width="0.18">Effector</text>
<text x="263.40" y="188.80" font-size="11.4" text-anchor="start" fill="#111" font-weight="bold" stroke="#111" stroke-width="0.35">D</text>
<text x="353.6" y="189.1" font-size="9.0" font-weight="bold" fill="#111" stroke="#111" stroke-width="0.25" textLength="69.5" lengthAdjust="spacingAndGlyphs">CD8<tspan font-size="4.50" dy="-2.70">+</tspan><tspan dy="2.70"> CAR T Cells</tspan></text>
<line x1="292.80" y1="198.50" x2="292.80" y2="307.20" stroke="#1a1a1a" stroke-width="1.35"/>
<line x1="292.20" y1="306.60" x2="394.00" y2="306.60" stroke="#1a1a1a" stroke-width="1.35"/>
<line x1="289.60" y1="306.60" x2="292.80" y2="306.60" stroke="#1a1a1a" stroke-width="1.0"/>
<text x="286.60" y="308.90" font-size="6.4" text-anchor="end" fill="#333" textLength="3.3" lengthAdjust="spacingAndGlyphs" stroke="#333" stroke-width="0.18">0</text>
<line x1="289.60" y1="294.93" x2="292.80" y2="294.93" stroke="#1a1a1a" stroke-width="1.0"/>
<text x="286.60" y="297.23" font-size="6.4" text-anchor="end" fill="#333" textLength="6.5" lengthAdjust="spacingAndGlyphs" stroke="#333" stroke-width="0.18">20</text>
<line x1="289.60" y1="283.27" x2="292.80" y2="283.27" stroke="#1a1a1a" stroke-width="1.0"/>
<text x="286.60" y="285.57" font-size="6.4" text-anchor="end" fill="#333" textLength="6.5" lengthAdjust="spacingAndGlyphs" stroke="#333" stroke-width="0.18">40</text>
<line x1="289.60" y1="271.60" x2="292.80" y2="271.60" stroke="#1a1a1a" stroke-width="1.0"/>
<text x="286.60" y="273.90" font-size="6.4" text-anchor="end" fill="#333" textLength="6.5" lengthAdjust="spacingAndGlyphs" stroke="#333" stroke-width="0.18">60</text>
<line x1="289.60" y1="259.94" x2="292.80" y2="259.94" stroke="#1a1a1a" stroke-width="1.0"/>
<text x="286.60" y="262.24" font-size="6.4" text-anchor="end" fill="#333" textLength="6.5" lengthAdjust="spacingAndGlyphs" stroke="#333" stroke-width="0.18">80</text>
<line x1="289.60" y1="248.27" x2="292.80" y2="248.27" stroke="#1a1a1a" stroke-width="1.0"/>
<text x="286.60" y="250.57" font-size="6.4" text-anchor="end" fill="#333" textLength="9.7" lengthAdjust="spacingAndGlyphs" stroke="#333" stroke-width="0.18">100</text>
<line x1="289.60" y1="236.60" x2="292.80" y2="236.60" stroke="#1a1a1a" stroke-width="1.0"/>
<text x="286.60" y="238.90" font-size="6.4" text-anchor="end" fill="#333" textLength="9.7" lengthAdjust="spacingAndGlyphs" stroke="#333" stroke-width="0.18">120</text>
<line x1="289.60" y1="224.94" x2="292.80" y2="224.94" stroke="#1a1a1a" stroke-width="1.0"/>
<text x="286.60" y="227.24" font-size="6.4" text-anchor="end" fill="#333" textLength="9.7" lengthAdjust="spacingAndGlyphs" stroke="#333" stroke-width="0.18">140</text>
<line x1="289.60" y1="213.27" x2="292.80" y2="213.27" stroke="#1a1a1a" stroke-width="1.0"/>
<text x="286.60" y="215.57" font-size="6.4" text-anchor="end" fill="#333" textLength="9.7" lengthAdjust="spacingAndGlyphs" stroke="#333" stroke-width="0.18">160</text>
<line x1="289.60" y1="201.61" x2="292.80" y2="201.61" stroke="#1a1a1a" stroke-width="1.0"/>
<text x="286.60" y="203.91" font-size="6.4" text-anchor="end" fill="#333" textLength="9.7" lengthAdjust="spacingAndGlyphs" stroke="#333" stroke-width="0.18">180</text>
<rect x="294.20" y="306.13" width="5.00" height="0.47" fill="#333"/>
<line x1="296.50" y1="305.73" x2="296.50" y2="306.60" stroke="#222" stroke-width="1.0"/>
<line x1="295.10" y1="305.73" x2="297.90" y2="305.73" stroke="#222" stroke-width="1.2"/>
<text x="301.90" y="311.30" font-size="6.6" text-anchor="end" fill="#2a2a2a" transform="rotate(-58 301.90 311.30)" stroke="#2a2a2a" stroke-width="0.12">GM-CSF</text>
<rect x="300.79" y="266.35" width="5.00" height="40.25" fill="#69a843"/>
<line x1="303.50" y1="254.69" x2="303.50" y2="278.02" stroke="#222" stroke-width="1.0"/>
<line x1="302.10" y1="254.69" x2="304.90" y2="254.69" stroke="#222" stroke-width="1.2"/>
<line x1="302.10" y1="278.02" x2="304.90" y2="278.02" stroke="#222" stroke-width="1.2"/>
<text x="308.49" y="311.30" font-size="6.6" text-anchor="end" fill="#2a2a2a" transform="rotate(-58 308.49 311.30)" stroke="#2a2a2a" stroke-width="0.12">Granzyme B</text>
<rect x="307.38" y="263.44" width="5.00" height="43.16" fill="#69a843"/>
<line x1="309.50" y1="245.35" x2="309.50" y2="281.52" stroke="#222" stroke-width="1.0"/>
<line x1="308.10" y1="245.35" x2="310.90" y2="245.35" stroke="#222" stroke-width="1.2"/>
<line x1="308.10" y1="281.52" x2="310.90" y2="281.52" stroke="#222" stroke-width="1.2"/>
<text x="315.08" y="311.30" font-size="6.6" text-anchor="end" fill="#2a2a2a" transform="rotate(-58 315.08 311.30)" stroke="#2a2a2a" stroke-width="0.12">IFN-γ</text>
<rect x="313.97" y="306.13" width="5.00" height="0.47" fill="#333"/>
<line x1="316.50" y1="305.73" x2="316.50" y2="306.60" stroke="#222" stroke-width="1.0"/>
<line x1="315.10" y1="305.73" x2="317.90" y2="305.73" stroke="#222" stroke-width="1.2"/>
<text x="321.67" y="311.30" font-size="6.6" text-anchor="end" fill="#2a2a2a" transform="rotate(-58 321.67 311.30)" stroke="#2a2a2a" stroke-width="0.12">IL-10</text>
<rect x="320.56" y="306.13" width="5.00" height="0.47" fill="#333"/>
<line x1="323.50" y1="305.73" x2="323.50" y2="306.60" stroke="#222" stroke-width="1.0"/>
<line x1="322.10" y1="305.73" x2="324.90" y2="305.73" stroke="#222" stroke-width="1.2"/>
<text x="328.26" y="311.30" font-size="6.6" text-anchor="end" fill="#2a2a2a" transform="rotate(-58 328.26 311.30)" stroke="#2a2a2a" stroke-width="0.12">IL-17A</text>
<rect x="327.15" y="304.85" width="5.00" height="1.75" fill="#333"/>
<line x1="329.50" y1="303.10" x2="329.50" y2="306.31" stroke="#222" stroke-width="1.0"/>
<line x1="328.10" y1="303.10" x2="330.90" y2="303.10" stroke="#222" stroke-width="1.2"/>
<text x="334.85" y="311.30" font-size="6.6" text-anchor="end" fill="#2a2a2a" transform="rotate(-58 334.85 311.30)" stroke="#2a2a2a" stroke-width="0.12">IL-2</text>
<rect x="333.74" y="306.13" width="5.00" height="0.47" fill="#333"/>
<line x1="336.50" y1="305.73" x2="336.50" y2="306.60" stroke="#222" stroke-width="1.0"/>
<line x1="335.10" y1="305.73" x2="337.90" y2="305.73" stroke="#222" stroke-width="1.2"/>
<text x="341.44" y="311.30" font-size="6.6" text-anchor="end" fill="#2a2a2a" transform="rotate(-58 341.44 311.30)" stroke="#2a2a2a" stroke-width="0.12">IL-4</text>
<rect x="340.33" y="289.68" width="5.00" height="16.92" fill="#2d4b84"/>
<line x1="342.50" y1="277.44" x2="342.50" y2="301.93" stroke="#222" stroke-width="1.0"/>
<line x1="341.10" y1="277.44" x2="343.90" y2="277.44" stroke="#222" stroke-width="1.2"/>
<line x1="341.10" y1="301.93" x2="343.90" y2="301.93" stroke="#222" stroke-width="1.2"/>
<text x="348.03" y="311.30" font-size="6.6" text-anchor="end" fill="#2a2a2a" transform="rotate(-58 348.03 311.30)" stroke="#2a2a2a" stroke-width="0.12">IL-5</text>
<rect x="346.92" y="282.68" width="5.00" height="23.92" fill="#2d4b84"/>
<line x1="349.50" y1="269.85" x2="349.50" y2="294.93" stroke="#222" stroke-width="1.0"/>
<line x1="348.10" y1="269.85" x2="350.90" y2="269.85" stroke="#222" stroke-width="1.2"/>
<line x1="348.10" y1="294.93" x2="350.90" y2="294.93" stroke="#222" stroke-width="1.2"/>
<text x="354.62" y="311.30" font-size="6.6" text-anchor="end" fill="#2a2a2a" transform="rotate(-58 354.62 311.30)" stroke="#2a2a2a" stroke-width="0.12">IL-6</text>
<rect x="353.51" y="304.85" width="5.00" height="1.75" fill="#2d4b84"/>
<line x1="356.50" y1="303.10" x2="356.50" y2="306.02" stroke="#222" stroke-width="1.0"/>
<line x1="355.10" y1="303.10" x2="357.90" y2="303.10" stroke="#222" stroke-width="1.2"/>
<line x1="355.10" y1="306.02" x2="357.90" y2="306.02" stroke="#222" stroke-width="1.2"/>
<text x="361.21" y="311.30" font-size="6.6" text-anchor="end" fill="#2a2a2a" transform="rotate(-58 361.21 311.30)" stroke="#2a2a2a" stroke-width="0.12">IL-9</text>
<rect x="360.10" y="291.14" width="5.00" height="15.46" fill="#69a843"/>
<line x1="362.50" y1="285.60" x2="362.50" y2="296.10" stroke="#222" stroke-width="1.0"/>
<line x1="361.10" y1="285.60" x2="363.90" y2="285.60" stroke="#222" stroke-width="1.2"/>
<line x1="361.10" y1="296.10" x2="363.90" y2="296.10" stroke="#222" stroke-width="1.2"/>
<text x="367.80" y="311.30" font-size="6.6" text-anchor="end" fill="#2a2a2a" transform="rotate(-58 367.80 311.30)" stroke="#2a2a2a" stroke-width="0.12">MIP-1α</text>
<rect x="366.69" y="296.68" width="5.00" height="9.92" fill="#4a2463"/>
<line x1="369.50" y1="292.31" x2="369.50" y2="300.77" stroke="#222" stroke-width="1.0"/>
<line x1="368.10" y1="292.31" x2="370.90" y2="292.31" stroke="#222" stroke-width="1.2"/>
<line x1="368.10" y1="300.77" x2="370.90" y2="300.77" stroke="#222" stroke-width="1.2"/>
<text x="374.39" y="311.30" font-size="6.6" text-anchor="end" fill="#2a2a2a" transform="rotate(-58 374.39 311.30)" stroke="#2a2a2a" stroke-width="0.12">MIP-1β</text>
<rect x="373.28" y="304.85" width="5.00" height="1.75" fill="#69a843"/>
<line x1="375.50" y1="303.10" x2="375.50" y2="306.02" stroke="#222" stroke-width="1.0"/>
<line x1="374.10" y1="303.10" x2="376.90" y2="303.10" stroke="#222" stroke-width="1.2"/>
<line x1="374.10" y1="306.02" x2="376.90" y2="306.02" stroke="#222" stroke-width="1.2"/>
<text x="380.98" y="311.30" font-size="6.6" text-anchor="end" fill="#2a2a2a" transform="rotate(-58 380.98 311.30)" stroke="#2a2a2a" stroke-width="0.12">Perforin</text>
<rect x="379.87" y="290.56" width="5.00" height="16.04" fill="#69a843"/>
<line x1="382.50" y1="285.60" x2="382.50" y2="294.93" stroke="#222" stroke-width="1.0"/>
<line x1="381.10" y1="285.60" x2="383.90" y2="285.60" stroke="#222" stroke-width="1.2"/>
<line x1="381.10" y1="294.93" x2="383.90" y2="294.93" stroke="#222" stroke-width="1.2"/>
<text x="387.57" y="311.30" font-size="6.6" text-anchor="end" fill="#2a2a2a" transform="rotate(-58 387.57 311.30)" stroke="#2a2a2a" stroke-width="0.12">TNF-α</text>
<rect x="386.46" y="306.13" width="5.00" height="0.47" fill="#333"/>
<line x1="388.50" y1="305.73" x2="388.50" y2="306.60" stroke="#222" stroke-width="1.0"/>
<line x1="387.10" y1="305.73" x2="389.90" y2="305.73" stroke="#222" stroke-width="1.2"/>
<text x="394.16" y="311.30" font-size="6.6" text-anchor="end" fill="#2a2a2a" transform="rotate(-58 394.16 311.30)" stroke="#2a2a2a" stroke-width="0.12">sCD137</text>
<text x="270.90" y="252.60" font-size="6.2" text-anchor="middle" fill="#3a3a3a" textLength="23.8" lengthAdjust="spacingAndGlyphs" transform="rotate(-90 270.90 252.60)" stroke="#3a3a3a" stroke-width="0.18">CD8 PSI</text>
<line x1="412.70" y1="198.50" x2="412.70" y2="307.20" stroke="#1a1a1a" stroke-width="1.35"/>
<line x1="412.10" y1="306.60" x2="513.00" y2="306.60" stroke="#1a1a1a" stroke-width="1.35"/>
<line x1="409.50" y1="306.60" x2="412.70" y2="306.60" stroke="#1a1a1a" stroke-width="1.0"/>
<text x="406.50" y="308.90" font-size="6.4" text-anchor="end" fill="#333" textLength="3.3" lengthAdjust="spacingAndGlyphs" stroke="#333" stroke-width="0.18">0</text>
<line x1="409.50" y1="294.93" x2="412.70" y2="294.93" stroke="#1a1a1a" stroke-width="1.0"/>
<text x="406.50" y="297.23" font-size="6.4" text-anchor="end" fill="#333" textLength="6.5" lengthAdjust="spacingAndGlyphs" stroke="#333" stroke-width="0.18">20</text>
<line x1="409.50" y1="283.27" x2="412.70" y2="283.27" stroke="#1a1a1a" stroke-width="1.0"/>
<text x="406.50" y="285.57" font-size="6.4" text-anchor="end" fill="#333" textLength="6.5" lengthAdjust="spacingAndGlyphs" stroke="#333" stroke-width="0.18">40</text>
<line x1="409.50" y1="271.60" x2="412.70" y2="271.60" stroke="#1a1a1a" stroke-width="1.0"/>
<text x="406.50" y="273.90" font-size="6.4" text-anchor="end" fill="#333" textLength="6.5" lengthAdjust="spacingAndGlyphs" stroke="#333" stroke-width="0.18">60</text>
<line x1="409.50" y1="259.94" x2="412.70" y2="259.94" stroke="#1a1a1a" stroke-width="1.0"/>
<text x="406.50" y="262.24" font-size="6.4" text-anchor="end" fill="#333" textLength="6.5" lengthAdjust="spacingAndGlyphs" stroke="#333" stroke-width="0.18">80</text>
<line x1="409.50" y1="248.27" x2="412.70" y2="248.27" stroke="#1a1a1a" stroke-width="1.0"/>
<text x="406.50" y="250.57" font-size="6.4" text-anchor="end" fill="#333" textLength="9.7" lengthAdjust="spacingAndGlyphs" stroke="#333" stroke-width="0.18">100</text>
<line x1="409.50" y1="236.60" x2="412.70" y2="236.60" stroke="#1a1a1a" stroke-width="1.0"/>
<text x="406.50" y="238.90" font-size="6.4" text-anchor="end" fill="#333" textLength="9.7" lengthAdjust="spacingAndGlyphs" stroke="#333" stroke-width="0.18">120</text>
<line x1="409.50" y1="224.94" x2="412.70" y2="224.94" stroke="#1a1a1a" stroke-width="1.0"/>
<text x="406.50" y="227.24" font-size="6.4" text-anchor="end" fill="#333" textLength="9.7" lengthAdjust="spacingAndGlyphs" stroke="#333" stroke-width="0.18">140</text>
<line x1="409.50" y1="213.27" x2="412.70" y2="213.27" stroke="#1a1a1a" stroke-width="1.0"/>
<text x="406.50" y="215.57" font-size="6.4" text-anchor="end" fill="#333" textLength="9.7" lengthAdjust="spacingAndGlyphs" stroke="#333" stroke-width="0.18">160</text>
<line x1="409.50" y1="201.61" x2="412.70" y2="201.61" stroke="#1a1a1a" stroke-width="1.0"/>
<text x="406.50" y="203.91" font-size="6.4" text-anchor="end" fill="#333" textLength="9.7" lengthAdjust="spacingAndGlyphs" stroke="#333" stroke-width="0.18">180</text>
<rect x="414.20" y="304.27" width="5.00" height="2.33" fill="#2d4b84"/>
<line x1="416.50" y1="302.52" x2="416.50" y2="305.73" stroke="#222" stroke-width="1.0"/>
<line x1="415.10" y1="302.52" x2="417.90" y2="302.52" stroke="#222" stroke-width="1.2"/>
<line x1="415.10" y1="305.73" x2="417.90" y2="305.73" stroke="#222" stroke-width="1.2"/>
<text x="421.90" y="311.30" font-size="6.6" text-anchor="end" fill="#2a2a2a" transform="rotate(-58 421.90 311.30)" stroke="#2a2a2a" stroke-width="0.12">GM-CSF</text>
<rect x="420.79" y="233.69" width="5.00" height="72.91" fill="#69a843"/>
<line x1="423.50" y1="216.77" x2="423.50" y2="249.44" stroke="#222" stroke-width="1.0"/>
<line x1="422.10" y1="216.77" x2="424.90" y2="216.77" stroke="#222" stroke-width="1.2"/>
<line x1="422.10" y1="249.44" x2="424.90" y2="249.44" stroke="#222" stroke-width="1.2"/>
<text x="428.49" y="311.30" font-size="6.6" text-anchor="end" fill="#2a2a2a" transform="rotate(-58 428.49 311.30)" stroke="#2a2a2a" stroke-width="0.12">Granzyme B</text>
<rect x="427.38" y="206.27" width="5.00" height="100.33" fill="#69a843"/>
<line x1="429.50" y1="174.77" x2="429.50" y2="237.77" stroke="#222" stroke-width="1.0"/>
<line x1="428.10" y1="174.77" x2="430.90" y2="174.77" stroke="#222" stroke-width="1.2"/>
<line x1="428.10" y1="237.77" x2="430.90" y2="237.77" stroke="#222" stroke-width="1.2"/>
<text x="435.08" y="311.30" font-size="6.6" text-anchor="end" fill="#2a2a2a" transform="rotate(-58 435.08 311.30)" stroke="#2a2a2a" stroke-width="0.12">IFN-γ</text>
<rect x="433.97" y="306.02" width="5.00" height="0.58" fill="#333"/>
<line x1="436.50" y1="305.73" x2="436.50" y2="306.60" stroke="#222" stroke-width="1.0"/>
<line x1="435.10" y1="305.73" x2="437.90" y2="305.73" stroke="#222" stroke-width="1.2"/>
<text x="441.67" y="311.30" font-size="6.6" text-anchor="end" fill="#2a2a2a" transform="rotate(-58 441.67 311.30)" stroke="#2a2a2a" stroke-width="0.12">IL-10</text>
<rect x="440.56" y="305.43" width="5.00" height="1.17" fill="#c0083a"/>
<line x1="443.50" y1="304.85" x2="443.50" y2="306.31" stroke="#222" stroke-width="1.0"/>
<line x1="442.10" y1="304.85" x2="444.90" y2="304.85" stroke="#222" stroke-width="1.2"/>
<text x="448.26" y="311.30" font-size="6.6" text-anchor="end" fill="#2a2a2a" transform="rotate(-58 448.26 311.30)" stroke="#2a2a2a" stroke-width="0.12">IL-17A</text>
<rect x="447.15" y="305.14" width="5.00" height="1.46" fill="#333"/>
<line x1="449.50" y1="304.56" x2="449.50" y2="306.02" stroke="#222" stroke-width="1.0"/>
<line x1="448.10" y1="304.56" x2="450.90" y2="304.56" stroke="#222" stroke-width="1.2"/>
<line x1="448.10" y1="306.02" x2="450.90" y2="306.02" stroke="#222" stroke-width="1.2"/>
<text x="454.85" y="311.30" font-size="6.6" text-anchor="end" fill="#2a2a2a" transform="rotate(-58 454.85 311.30)" stroke="#2a2a2a" stroke-width="0.12">IL-2</text>
<rect x="453.74" y="306.02" width="5.00" height="0.58" fill="#333"/>
<line x1="456.50" y1="305.73" x2="456.50" y2="306.60" stroke="#222" stroke-width="1.0"/>
<line x1="455.10" y1="305.73" x2="457.90" y2="305.73" stroke="#222" stroke-width="1.2"/>
<text x="461.44" y="311.30" font-size="6.6" text-anchor="end" fill="#2a2a2a" transform="rotate(-58 461.44 311.30)" stroke="#2a2a2a" stroke-width="0.12">IL-4</text>
<rect x="460.33" y="292.31" width="5.00" height="14.29" fill="#2d4b84"/>
<line x1="462.50" y1="288.52" x2="462.50" y2="295.52" stroke="#222" stroke-width="1.0"/>
<line x1="461.10" y1="288.52" x2="463.90" y2="288.52" stroke="#222" stroke-width="1.2"/>
<line x1="461.10" y1="295.52" x2="463.90" y2="295.52" stroke="#222" stroke-width="1.2"/>
<text x="468.03" y="311.30" font-size="6.6" text-anchor="end" fill="#2a2a2a" transform="rotate(-58 468.03 311.30)" stroke="#2a2a2a" stroke-width="0.12">IL-5</text>
<rect x="466.92" y="266.35" width="5.00" height="40.25" fill="#2d4b84"/>
<line x1="469.50" y1="258.77" x2="469.50" y2="273.35" stroke="#222" stroke-width="1.0"/>
<line x1="468.10" y1="258.77" x2="470.90" y2="258.77" stroke="#222" stroke-width="1.2"/>
<line x1="468.10" y1="273.35" x2="470.90" y2="273.35" stroke="#222" stroke-width="1.2"/>
<text x="474.62" y="311.30" font-size="6.6" text-anchor="end" fill="#2a2a2a" transform="rotate(-58 474.62 311.30)" stroke="#2a2a2a" stroke-width="0.12">IL-6</text>
<rect x="473.51" y="304.85" width="5.00" height="1.75" fill="#2d4b84"/>
<line x1="476.50" y1="304.27" x2="476.50" y2="305.73" stroke="#222" stroke-width="1.0"/>
<line x1="475.10" y1="304.27" x2="477.90" y2="304.27" stroke="#222" stroke-width="1.2"/>
<line x1="475.10" y1="305.73" x2="477.90" y2="305.73" stroke="#222" stroke-width="1.2"/>
<text x="481.21" y="311.30" font-size="6.6" text-anchor="end" fill="#2a2a2a" transform="rotate(-58 481.21 311.30)" stroke="#2a2a2a" stroke-width="0.12">IL-9</text>
<rect x="480.10" y="268.10" width="5.00" height="38.50" fill="#69a843"/>
<line x1="482.50" y1="261.10" x2="482.50" y2="274.52" stroke="#222" stroke-width="1.0"/>
<line x1="481.10" y1="261.10" x2="483.90" y2="261.10" stroke="#222" stroke-width="1.2"/>
<line x1="481.10" y1="274.52" x2="483.90" y2="274.52" stroke="#222" stroke-width="1.2"/>
<text x="487.80" y="311.30" font-size="6.6" text-anchor="end" fill="#2a2a2a" transform="rotate(-58 487.80 311.30)" stroke="#2a2a2a" stroke-width="0.12">MIP-1α</text>
<rect x="486.69" y="294.93" width="5.00" height="11.67" fill="#4a2463"/>
<line x1="489.50" y1="292.31" x2="489.50" y2="297.85" stroke="#222" stroke-width="1.0"/>
<line x1="488.10" y1="292.31" x2="490.90" y2="292.31" stroke="#222" stroke-width="1.2"/>
<line x1="488.10" y1="297.85" x2="490.90" y2="297.85" stroke="#222" stroke-width="1.2"/>
<text x="494.39" y="311.30" font-size="6.6" text-anchor="end" fill="#2a2a2a" transform="rotate(-58 494.39 311.30)" stroke="#2a2a2a" stroke-width="0.12">MIP-1β</text>
<rect x="493.28" y="304.27" width="5.00" height="2.33" fill="#69a843"/>
<line x1="495.50" y1="303.68" x2="495.50" y2="305.43" stroke="#222" stroke-width="1.0"/>
<line x1="494.10" y1="303.68" x2="496.90" y2="303.68" stroke="#222" stroke-width="1.2"/>
<line x1="494.10" y1="305.43" x2="496.90" y2="305.43" stroke="#222" stroke-width="1.2"/>
<text x="500.98" y="311.30" font-size="6.6" text-anchor="end" fill="#2a2a2a" transform="rotate(-58 500.98 311.30)" stroke="#2a2a2a" stroke-width="0.12">Perforin</text>
<rect x="499.87" y="287.93" width="5.00" height="18.67" fill="#69a843"/>
<line x1="502.50" y1="282.98" x2="502.50" y2="292.60" stroke="#222" stroke-width="1.0"/>
<line x1="501.10" y1="282.98" x2="503.90" y2="282.98" stroke="#222" stroke-width="1.2"/>
<line x1="501.10" y1="292.60" x2="503.90" y2="292.60" stroke="#222" stroke-width="1.2"/>
<text x="507.57" y="311.30" font-size="6.6" text-anchor="end" fill="#2a2a2a" transform="rotate(-58 507.57 311.30)" stroke="#2a2a2a" stroke-width="0.12">TNF-α</text>
<rect x="506.46" y="304.85" width="5.00" height="1.75" fill="#ecbd1f"/>
<line x1="508.50" y1="304.27" x2="508.50" y2="306.02" stroke="#222" stroke-width="1.0"/>
<line x1="507.10" y1="304.27" x2="509.90" y2="304.27" stroke="#222" stroke-width="1.2"/>
<line x1="507.10" y1="306.02" x2="509.90" y2="306.02" stroke="#222" stroke-width="1.2"/>
<text x="514.16" y="311.30" font-size="6.6" text-anchor="end" fill="#2a2a2a" transform="rotate(-58 514.16 311.30)" stroke="#2a2a2a" stroke-width="0.12">sCD137</text>
<text x="322.00" y="203.20" font-size="5.3" text-anchor="start" fill="#66708e" textLength="41.2" lengthAdjust="spacingAndGlyphs" stroke="#66708e" stroke-width="0.18">Non-Responders</text>
<text x="448.80" y="203.00" font-size="5.3" text-anchor="start" fill="#80304e" textLength="28.2" lengthAdjust="spacingAndGlyphs" stroke="#80304e" stroke-width="0.18">Responders</text>
<rect x="321.30" y="211.55" width="6.70" height="6.70" fill="#c0083a"/>
<text x="330.50" y="217.00" font-size="5.4" text-anchor="start" fill="#222" stroke="#222" stroke-width="0.18">Inflammatory</text>
<rect x="321.30" y="222.40" width="6.70" height="6.70" fill="#ecbd1f"/>
<text x="330.50" y="227.85" font-size="5.4" text-anchor="start" fill="#222" stroke="#222" stroke-width="0.18">Regulatory</text>
<rect x="321.30" y="233.25" width="6.70" height="6.70" fill="#4a2463"/>
<text x="330.50" y="238.70" font-size="5.4" text-anchor="start" fill="#222" stroke="#222" stroke-width="0.18">Chemoattractive</text>
<rect x="321.30" y="244.10" width="6.70" height="6.70" fill="#2d4b84"/>
<text x="330.50" y="249.55" font-size="5.4" text-anchor="start" fill="#222" stroke="#222" stroke-width="0.18">Stimulatory</text>
<rect x="321.30" y="254.95" width="6.70" height="6.70" fill="#69a843"/>
<text x="330.50" y="260.40" font-size="5.4" text-anchor="start" fill="#222" stroke="#222" stroke-width="0.18">Effector</text>
<text x="8.20" y="366.00" font-size="11.4" text-anchor="start" fill="#111" font-weight="bold" stroke="#111" stroke-width="0.35">E</text>
<text x="122.7" y="366.7" font-size="9.0" font-weight="bold" fill="#111" stroke="#111" stroke-width="0.25" textLength="69.6" lengthAdjust="spacingAndGlyphs">CD4<tspan font-size="4.50" dy="-2.70">+</tspan><tspan dy="2.70"> CAR T Cells</tspan></text>
<text x="14.80" y="435.50" font-size="6.6" text-anchor="middle" fill="#333" textLength="68" lengthAdjust="spacingAndGlyphs" transform="rotate(-90 14.80 435.50)" stroke="#333" stroke-width="0.18">Polyfunctional strength</text>
<line x1="36.80" y1="388.30" x2="36.80" y2="481.00" stroke="#1a1a1a" stroke-width="1.4"/>
<line x1="36.10" y1="480.40" x2="68.80" y2="480.40" stroke="#1a1a1a" stroke-width="1.3"/>
<line x1="33.60" y1="478.00" x2="36.80" y2="478.00" stroke="#1a1a1a" stroke-width="1"/>
<text x="30.70" y="480.40" font-size="6.7" text-anchor="end" fill="#333" textLength="3.4" lengthAdjust="spacingAndGlyphs" stroke="#333" stroke-width="0.18">0</text>
<line x1="33.60" y1="450.40" x2="36.80" y2="450.40" stroke="#1a1a1a" stroke-width="1"/>
<text x="30.70" y="452.80" font-size="6.7" text-anchor="end" fill="#333" textLength="6.7" lengthAdjust="spacingAndGlyphs" stroke="#333" stroke-width="0.18">50</text>
<line x1="33.60" y1="422.80" x2="36.80" y2="422.80" stroke="#1a1a1a" stroke-width="1"/>
<text x="30.70" y="425.20" font-size="6.7" text-anchor="end" fill="#333" textLength="9.9" lengthAdjust="spacingAndGlyphs" stroke="#333" stroke-width="0.18">100</text>
<line x1="33.60" y1="395.20" x2="36.80" y2="395.20" stroke="#1a1a1a" stroke-width="1"/>
<text x="30.70" y="397.60" font-size="6.7" text-anchor="end" fill="#333" textLength="9.9" lengthAdjust="spacingAndGlyphs" stroke="#333" stroke-width="0.18">150</text>
<line x1="46.50" y1="395.20" x2="46.50" y2="476.90" stroke="#222" stroke-width="1.0"/>
<line x1="43.50" y1="395.20" x2="49.50" y2="395.20" stroke="#222" stroke-width="1.1"/>
<line x1="43.50" y1="476.90" x2="49.50" y2="476.90" stroke="#222" stroke-width="1.1"/>
<rect x="40.10" y="447.64" width="11.80" height="27.60" fill="#2d4f8c"/>
<line x1="40.10" y1="466.96" x2="51.90" y2="466.96" stroke="#16244a" stroke-width="1.4"/>
<line x1="60.50" y1="391.34" x2="60.50" y2="473.58" stroke="#222" stroke-width="1.0"/>
<line x1="57.50" y1="391.34" x2="63.50" y2="391.34" stroke="#222" stroke-width="1.1"/>
<line x1="57.50" y1="473.58" x2="63.50" y2="473.58" stroke="#222" stroke-width="1.1"/>
<rect x="54.80" y="420.04" width="11.80" height="39.74" fill="#b0062f"/>
<line x1="54.80" y1="449.85" x2="66.60" y2="449.85" stroke="#5a0a1e" stroke-width="1.4"/>
<text x="46.10" y="487.60" font-size="6.4" text-anchor="middle" fill="#333" stroke="#333" stroke-width="0.18">NR</text>
<text x="60.80" y="487.60" font-size="6.4" text-anchor="middle" fill="#333" stroke="#333" stroke-width="0.18">R</text>
<text x="53.10" y="378.80" font-size="5.3" text-anchor="middle" fill="#333" stroke="#333" stroke-width="0.18">IL-8</text>
<text x="53.10" y="385.30" font-size="5.6" text-anchor="middle" fill="#333" stroke="#333" stroke-width="0.18">FD = 5.5</text>
<line x1="89.10" y1="388.30" x2="89.10" y2="481.00" stroke="#1a1a1a" stroke-width="1.4"/>
<line x1="88.40" y1="480.40" x2="121.10" y2="480.40" stroke="#1a1a1a" stroke-width="1.3"/>
<line x1="85.90" y1="477.20" x2="89.10" y2="477.20" stroke="#1a1a1a" stroke-width="1"/>
<text x="83.00" y="479.60" font-size="6.7" text-anchor="end" fill="#333" textLength="3.4" lengthAdjust="spacingAndGlyphs" stroke="#333" stroke-width="0.18">0</text>
<line x1="85.90" y1="456.35" x2="89.10" y2="456.35" stroke="#1a1a1a" stroke-width="1"/>
<text x="83.00" y="458.75" font-size="6.7" text-anchor="end" fill="#333" textLength="6.7" lengthAdjust="spacingAndGlyphs" stroke="#333" stroke-width="0.18">50</text>
<line x1="85.90" y1="435.50" x2="89.10" y2="435.50" stroke="#1a1a1a" stroke-width="1"/>
<text x="83.00" y="437.90" font-size="6.7" text-anchor="end" fill="#333" textLength="9.9" lengthAdjust="spacingAndGlyphs" stroke="#333" stroke-width="0.18">100</text>
<line x1="85.90" y1="414.65" x2="89.10" y2="414.65" stroke="#1a1a1a" stroke-width="1"/>
<text x="83.00" y="417.05" font-size="6.7" text-anchor="end" fill="#333" textLength="9.9" lengthAdjust="spacingAndGlyphs" stroke="#333" stroke-width="0.18">150</text>
<line x1="85.90" y1="393.80" x2="89.10" y2="393.80" stroke="#1a1a1a" stroke-width="1"/>
<text x="83.00" y="396.20" font-size="6.7" text-anchor="end" fill="#333" textLength="9.9" lengthAdjust="spacingAndGlyphs" stroke="#333" stroke-width="0.18">200</text>
<line x1="98.50" y1="468.86" x2="98.50" y2="476.99" stroke="#222" stroke-width="1.0"/>
<line x1="95.50" y1="468.86" x2="101.50" y2="468.86" stroke="#222" stroke-width="1.1"/>
<line x1="95.50" y1="476.99" x2="101.50" y2="476.99" stroke="#222" stroke-width="1.1"/>
<rect x="92.40" y="468.86" width="11.80" height="7.92" fill="#2d4f8c"/>
<line x1="92.40" y1="473.86" x2="104.20" y2="473.86" stroke="#16244a" stroke-width="1.4"/>
<line x1="113.50" y1="391.30" x2="113.50" y2="476.99" stroke="#222" stroke-width="1.0"/>
<line x1="110.50" y1="391.30" x2="116.50" y2="391.30" stroke="#222" stroke-width="1.1"/>
<line x1="110.50" y1="476.99" x2="116.50" y2="476.99" stroke="#222" stroke-width="1.1"/>
<rect x="107.10" y="463.02" width="11.80" height="13.76" fill="#b0062f"/>
<line x1="107.10" y1="469.69" x2="118.90" y2="469.69" stroke="#5a0a1e" stroke-width="1.4"/>
<text x="98.40" y="487.60" font-size="6.4" text-anchor="middle" fill="#333" stroke="#333" stroke-width="0.18">NR</text>
<text x="113.10" y="487.60" font-size="6.4" text-anchor="middle" fill="#333" stroke="#333" stroke-width="0.18">R</text>
<text x="105.40" y="378.80" font-size="5.3" text-anchor="middle" fill="#333" stroke="#333" stroke-width="0.18">IL-5</text>
<text x="105.40" y="385.30" font-size="5.6" text-anchor="middle" fill="#333" stroke="#333" stroke-width="0.18">FD = 4.0</text>
<line x1="141.70" y1="388.30" x2="141.70" y2="481.00" stroke="#1a1a1a" stroke-width="1.4"/>
<line x1="141.00" y1="480.40" x2="173.70" y2="480.40" stroke="#1a1a1a" stroke-width="1.3"/>
<line x1="138.50" y1="477.20" x2="141.70" y2="477.20" stroke="#1a1a1a" stroke-width="1"/>
<text x="135.60" y="479.60" font-size="6.7" text-anchor="end" fill="#333" textLength="3.4" lengthAdjust="spacingAndGlyphs" stroke="#333" stroke-width="0.18">0</text>
<line x1="138.50" y1="463.73" x2="141.70" y2="463.73" stroke="#1a1a1a" stroke-width="1"/>
<text x="135.60" y="466.13" font-size="6.7" text-anchor="end" fill="#333" textLength="6.7" lengthAdjust="spacingAndGlyphs" stroke="#333" stroke-width="0.18">50</text>
<line x1="138.50" y1="450.26" x2="141.70" y2="450.26" stroke="#1a1a1a" stroke-width="1"/>
<text x="135.60" y="452.66" font-size="6.7" text-anchor="end" fill="#333" textLength="9.9" lengthAdjust="spacingAndGlyphs" stroke="#333" stroke-width="0.18">100</text>
<line x1="138.50" y1="436.79" x2="141.70" y2="436.79" stroke="#1a1a1a" stroke-width="1"/>
<text x="135.60" y="439.19" font-size="6.7" text-anchor="end" fill="#333" textLength="9.9" lengthAdjust="spacingAndGlyphs" stroke="#333" stroke-width="0.18">150</text>
<line x1="138.50" y1="423.32" x2="141.70" y2="423.32" stroke="#1a1a1a" stroke-width="1"/>
<text x="135.60" y="425.72" font-size="6.7" text-anchor="end" fill="#333" textLength="9.9" lengthAdjust="spacingAndGlyphs" stroke="#333" stroke-width="0.18">200</text>
<line x1="138.50" y1="409.85" x2="141.70" y2="409.85" stroke="#1a1a1a" stroke-width="1"/>
<text x="135.60" y="412.25" font-size="6.7" text-anchor="end" fill="#333" textLength="9.9" lengthAdjust="spacingAndGlyphs" stroke="#333" stroke-width="0.18">250</text>
<line x1="138.50" y1="396.38" x2="141.70" y2="396.38" stroke="#1a1a1a" stroke-width="1"/>
<text x="135.60" y="398.78" font-size="6.7" text-anchor="end" fill="#333" textLength="9.9" lengthAdjust="spacingAndGlyphs" stroke="#333" stroke-width="0.18">300</text>
<line x1="150.50" y1="463.73" x2="150.50" y2="476.12" stroke="#222" stroke-width="1.0"/>
<line x1="147.50" y1="463.73" x2="153.50" y2="463.73" stroke="#222" stroke-width="1.1"/>
<line x1="147.50" y1="476.12" x2="153.50" y2="476.12" stroke="#222" stroke-width="1.1"/>
<rect x="145.00" y="472.08" width="11.80" height="4.04" fill="#2d4f8c"/>
<line x1="145.00" y1="474.24" x2="156.80" y2="474.24" stroke="#16244a" stroke-width="1.4"/>
<line x1="165.50" y1="391.53" x2="165.50" y2="477.20" stroke="#222" stroke-width="1.0"/>
<line x1="162.50" y1="391.53" x2="168.50" y2="391.53" stroke="#222" stroke-width="1.1"/>
<line x1="162.50" y1="477.20" x2="168.50" y2="477.20" stroke="#222" stroke-width="1.1"/>
<rect x="159.70" y="454.84" width="11.80" height="15.63" fill="#b0062f"/>
<line x1="159.70" y1="464.54" x2="171.50" y2="464.54" stroke="#5a0a1e" stroke-width="1.4"/>
<text x="151.00" y="487.60" font-size="6.4" text-anchor="middle" fill="#333" stroke="#333" stroke-width="0.18">NR</text>
<text x="165.70" y="487.60" font-size="6.4" text-anchor="middle" fill="#333" stroke="#333" stroke-width="0.18">R</text>
<text x="158.00" y="378.80" font-size="5.3" text-anchor="middle" fill="#333" stroke="#333" stroke-width="0.18">IL-17A</text>
<text x="158.00" y="385.30" font-size="5.6" text-anchor="middle" fill="#333" stroke="#333" stroke-width="0.18">FD = 3.2</text>
<line x1="194.10" y1="388.30" x2="194.10" y2="481.00" stroke="#1a1a1a" stroke-width="1.4"/>
<line x1="193.40" y1="480.40" x2="226.10" y2="480.40" stroke="#1a1a1a" stroke-width="1.3"/>
<line x1="190.90" y1="477.20" x2="194.10" y2="477.20" stroke="#1a1a1a" stroke-width="1"/>
<text x="188.00" y="479.60" font-size="6.7" text-anchor="end" fill="#333" textLength="3.4" lengthAdjust="spacingAndGlyphs" stroke="#333" stroke-width="0.18">0</text>
<line x1="190.90" y1="453.40" x2="194.10" y2="453.40" stroke="#1a1a1a" stroke-width="1"/>
<text x="188.00" y="455.80" font-size="6.7" text-anchor="end" fill="#333" textLength="6.7" lengthAdjust="spacingAndGlyphs" stroke="#333" stroke-width="0.18">50</text>
<line x1="190.90" y1="429.60" x2="194.10" y2="429.60" stroke="#1a1a1a" stroke-width="1"/>
<text x="188.00" y="432.00" font-size="6.7" text-anchor="end" fill="#333" textLength="9.9" lengthAdjust="spacingAndGlyphs" stroke="#333" stroke-width="0.18">100</text>
<line x1="190.90" y1="405.80" x2="194.10" y2="405.80" stroke="#1a1a1a" stroke-width="1"/>
<text x="188.00" y="408.20" font-size="6.7" text-anchor="end" fill="#333" textLength="9.9" lengthAdjust="spacingAndGlyphs" stroke="#333" stroke-width="0.18">150</text>
<line x1="203.50" y1="419.13" x2="203.50" y2="477.20" stroke="#222" stroke-width="1.0"/>
<line x1="200.50" y1="419.13" x2="206.50" y2="419.13" stroke="#222" stroke-width="1.1"/>
<line x1="200.50" y1="477.20" x2="206.50" y2="477.20" stroke="#222" stroke-width="1.1"/>
<rect x="197.40" y="451.97" width="11.80" height="17.61" fill="#2d4f8c"/>
<line x1="197.40" y1="468.16" x2="209.20" y2="468.16" stroke="#16244a" stroke-width="1.4"/>
<line x1="218.50" y1="391.52" x2="218.50" y2="474.82" stroke="#222" stroke-width="1.0"/>
<line x1="215.50" y1="391.52" x2="221.50" y2="391.52" stroke="#222" stroke-width="1.1"/>
<line x1="215.50" y1="474.82" x2="221.50" y2="474.82" stroke="#222" stroke-width="1.1"/>
<rect x="212.10" y="427.70" width="11.80" height="31.89" fill="#b0062f"/>
<line x1="212.10" y1="441.50" x2="223.90" y2="441.50" stroke="#5a0a1e" stroke-width="1.4"/>
<text x="203.40" y="487.60" font-size="6.4" text-anchor="middle" fill="#333" stroke="#333" stroke-width="0.18">NR</text>
<text x="218.10" y="487.60" font-size="6.4" text-anchor="middle" fill="#333" stroke="#333" stroke-width="0.18">R</text>
<text x="210.40" y="378.80" font-size="5.3" text-anchor="middle" fill="#333" stroke="#333" stroke-width="0.18">IFN-γ</text>
<text x="210.40" y="385.30" font-size="5.6" text-anchor="middle" fill="#333" stroke="#333" stroke-width="0.18">FD = 2.8</text>
<line x1="245.90" y1="388.30" x2="245.90" y2="481.00" stroke="#1a1a1a" stroke-width="1.4"/>
<line x1="245.20" y1="480.40" x2="277.90" y2="480.40" stroke="#1a1a1a" stroke-width="1.3"/>
<line x1="242.70" y1="479.70" x2="245.90" y2="479.70" stroke="#1a1a1a" stroke-width="1"/>
<text x="239.80" y="482.10" font-size="6.7" text-anchor="end" fill="#333" textLength="3.4" lengthAdjust="spacingAndGlyphs" stroke="#333" stroke-width="0.18">0</text>
<line x1="242.70" y1="466.10" x2="245.90" y2="466.10" stroke="#1a1a1a" stroke-width="1"/>
<text x="239.80" y="468.50" font-size="6.7" text-anchor="end" fill="#333" textLength="6.7" lengthAdjust="spacingAndGlyphs" stroke="#333" stroke-width="0.18">50</text>
<line x1="242.70" y1="452.50" x2="245.90" y2="452.50" stroke="#1a1a1a" stroke-width="1"/>
<text x="239.80" y="454.90" font-size="6.7" text-anchor="end" fill="#333" textLength="9.9" lengthAdjust="spacingAndGlyphs" stroke="#333" stroke-width="0.18">100</text>
<line x1="242.70" y1="438.90" x2="245.90" y2="438.90" stroke="#1a1a1a" stroke-width="1"/>
<text x="239.80" y="441.30" font-size="6.7" text-anchor="end" fill="#333" textLength="9.9" lengthAdjust="spacingAndGlyphs" stroke="#333" stroke-width="0.18">150</text>
<line x1="242.70" y1="425.30" x2="245.90" y2="425.30" stroke="#1a1a1a" stroke-width="1"/>
<text x="239.80" y="427.70" font-size="6.7" text-anchor="end" fill="#333" textLength="9.9" lengthAdjust="spacingAndGlyphs" stroke="#333" stroke-width="0.18">200</text>
<line x1="242.70" y1="411.70" x2="245.90" y2="411.70" stroke="#1a1a1a" stroke-width="1"/>
<text x="239.80" y="414.10" font-size="6.7" text-anchor="end" fill="#333" textLength="9.9" lengthAdjust="spacingAndGlyphs" stroke="#333" stroke-width="0.18">250</text>
<line x1="242.70" y1="398.10" x2="245.90" y2="398.10" stroke="#1a1a1a" stroke-width="1"/>
<text x="239.80" y="400.50" font-size="6.7" text-anchor="end" fill="#333" textLength="9.9" lengthAdjust="spacingAndGlyphs" stroke="#333" stroke-width="0.18">300</text>
<line x1="255.50" y1="463.92" x2="255.50" y2="477.25" stroke="#222" stroke-width="1.0"/>
<line x1="252.50" y1="463.92" x2="258.50" y2="463.92" stroke="#222" stroke-width="1.1"/>
<line x1="252.50" y1="477.25" x2="258.50" y2="477.25" stroke="#222" stroke-width="1.1"/>
<rect x="249.20" y="467.73" width="11.80" height="4.35" fill="#2d4f8c"/>
<line x1="249.20" y1="470.18" x2="261.00" y2="470.18" stroke="#16244a" stroke-width="1.4"/>
<line x1="269.50" y1="391.57" x2="269.50" y2="475.89" stroke="#222" stroke-width="1.0"/>
<line x1="266.50" y1="391.57" x2="272.50" y2="391.57" stroke="#222" stroke-width="1.1"/>
<line x1="266.50" y1="475.89" x2="272.50" y2="475.89" stroke="#222" stroke-width="1.1"/>
<rect x="263.90" y="441.35" width="11.80" height="27.74" fill="#b0062f"/>
<line x1="263.90" y1="457.40" x2="275.70" y2="457.40" stroke="#5a0a1e" stroke-width="1.4"/>
<text x="255.20" y="487.60" font-size="6.4" text-anchor="middle" fill="#333" stroke="#333" stroke-width="0.18">NR</text>
<text x="269.90" y="487.60" font-size="6.4" text-anchor="middle" fill="#333" stroke="#333" stroke-width="0.18">R</text>
<text x="262.20" y="378.80" font-size="5.3" text-anchor="middle" fill="#333" stroke="#333" stroke-width="0.18">MIP-1α</text>
<text x="262.20" y="385.30" font-size="5.6" text-anchor="middle" fill="#333" stroke="#333" stroke-width="0.18">FD = 2.6</text>
<rect x="85.80" y="496.50" width="6.60" height="6.40" fill="#2d4f8c"/>
<text x="95.70" y="501.90" font-size="6.0" text-anchor="start" fill="#222" textLength="60.5" lengthAdjust="spacingAndGlyphs" stroke="#222" stroke-width="0.18">Non-responders (NR)</text>
<rect x="163.80" y="496.50" width="6.60" height="6.40" fill="#b0062f"/>
<text x="173.50" y="501.90" font-size="6.0" text-anchor="start" fill="#222" textLength="43.4" lengthAdjust="spacingAndGlyphs" stroke="#222" stroke-width="0.18">Responders (R)</text>
<text x="285.00" y="365.90" font-size="11.4" text-anchor="start" fill="#111" font-weight="bold" stroke="#111" stroke-width="0.35">F</text>
<text x="368.8" y="366.8" font-size="9.0" font-weight="bold" fill="#111" stroke="#111" stroke-width="0.25" textLength="69.2" lengthAdjust="spacingAndGlyphs">CD8<tspan font-size="4.50" dy="-2.70">+</tspan><tspan dy="2.70"> CAR T Cells</tspan></text>
<text x="295.00" y="435.00" font-size="6.6" text-anchor="middle" fill="#333" textLength="68" lengthAdjust="spacingAndGlyphs" transform="rotate(-90 295.00 435.00)" stroke="#333" stroke-width="0.18">Polyfunctional strength</text>
<line x1="316.10" y1="388.30" x2="316.10" y2="481.00" stroke="#1a1a1a" stroke-width="1.4"/>
<line x1="315.40" y1="480.40" x2="348.10" y2="480.40" stroke="#1a1a1a" stroke-width="1.3"/>
<line x1="312.90" y1="477.50" x2="316.10" y2="477.50" stroke="#1a1a1a" stroke-width="1"/>
<text x="310.00" y="479.90" font-size="6.7" text-anchor="end" fill="#333" textLength="3.4" lengthAdjust="spacingAndGlyphs" stroke="#333" stroke-width="0.18">0</text>
<line x1="312.90" y1="453.80" x2="316.10" y2="453.80" stroke="#1a1a1a" stroke-width="1"/>
<text x="310.00" y="456.20" font-size="6.7" text-anchor="end" fill="#333" textLength="6.7" lengthAdjust="spacingAndGlyphs" stroke="#333" stroke-width="0.18">50</text>
<line x1="312.90" y1="430.10" x2="316.10" y2="430.10" stroke="#1a1a1a" stroke-width="1"/>
<text x="310.00" y="432.50" font-size="6.7" text-anchor="end" fill="#333" textLength="9.9" lengthAdjust="spacingAndGlyphs" stroke="#333" stroke-width="0.18">100</text>
<line x1="312.90" y1="406.40" x2="316.10" y2="406.40" stroke="#1a1a1a" stroke-width="1"/>
<text x="310.00" y="408.80" font-size="6.7" text-anchor="end" fill="#333" textLength="9.9" lengthAdjust="spacingAndGlyphs" stroke="#333" stroke-width="0.18">150</text>
<line x1="325.50" y1="444.79" x2="325.50" y2="477.50" stroke="#222" stroke-width="1.0"/>
<line x1="322.50" y1="444.79" x2="328.50" y2="444.79" stroke="#222" stroke-width="1.1"/>
<line x1="322.50" y1="477.50" x2="328.50" y2="477.50" stroke="#222" stroke-width="1.1"/>
<rect x="319.40" y="456.17" width="11.80" height="16.59" fill="#2d4f8c"/>
<line x1="319.40" y1="471.34" x2="331.20" y2="471.34" stroke="#16244a" stroke-width="1.4"/>
<line x1="340.50" y1="391.23" x2="340.50" y2="476.55" stroke="#222" stroke-width="1.0"/>
<line x1="337.50" y1="391.23" x2="343.50" y2="391.23" stroke="#222" stroke-width="1.1"/>
<line x1="337.50" y1="476.55" x2="343.50" y2="476.55" stroke="#222" stroke-width="1.1"/>
<rect x="334.10" y="429.63" width="11.80" height="30.81" fill="#b0062f"/>
<line x1="334.10" y1="451.90" x2="345.90" y2="451.90" stroke="#5a0a1e" stroke-width="1.4"/>
<text x="325.40" y="487.60" font-size="6.4" text-anchor="middle" fill="#333" stroke="#333" stroke-width="0.18">NR</text>
<text x="340.10" y="487.60" font-size="6.4" text-anchor="middle" fill="#333" stroke="#333" stroke-width="0.18">R</text>
<text x="332.40" y="378.80" font-size="5.3" text-anchor="middle" fill="#333" stroke="#333" stroke-width="0.18">MIP-1α</text>
<text x="332.40" y="385.30" font-size="5.6" text-anchor="middle" fill="#333" stroke="#333" stroke-width="0.18">FD = 3.8</text>
<line x1="368.60" y1="388.30" x2="368.60" y2="481.00" stroke="#1a1a1a" stroke-width="1.4"/>
<line x1="367.90" y1="480.40" x2="400.60" y2="480.40" stroke="#1a1a1a" stroke-width="1.3"/>
<line x1="365.40" y1="477.20" x2="368.60" y2="477.20" stroke="#1a1a1a" stroke-width="1"/>
<text x="362.50" y="479.60" font-size="6.7" text-anchor="end" fill="#333" textLength="3.4" lengthAdjust="spacingAndGlyphs" stroke="#333" stroke-width="0.18">0</text>
<line x1="365.40" y1="457.05" x2="368.60" y2="457.05" stroke="#1a1a1a" stroke-width="1"/>
<text x="362.50" y="459.45" font-size="6.7" text-anchor="end" fill="#333" textLength="9.9" lengthAdjust="spacingAndGlyphs" stroke="#333" stroke-width="0.18">200</text>
<line x1="365.40" y1="436.90" x2="368.60" y2="436.90" stroke="#1a1a1a" stroke-width="1"/>
<text x="362.50" y="439.30" font-size="6.7" text-anchor="end" fill="#333" textLength="9.9" lengthAdjust="spacingAndGlyphs" stroke="#333" stroke-width="0.18">400</text>
<line x1="365.40" y1="416.75" x2="368.60" y2="416.75" stroke="#1a1a1a" stroke-width="1"/>
<text x="362.50" y="419.15" font-size="6.7" text-anchor="end" fill="#333" textLength="9.9" lengthAdjust="spacingAndGlyphs" stroke="#333" stroke-width="0.18">600</text>
<line x1="365.40" y1="396.60" x2="368.60" y2="396.60" stroke="#1a1a1a" stroke-width="1"/>
<text x="362.50" y="399.00" font-size="6.7" text-anchor="end" fill="#333" textLength="9.9" lengthAdjust="spacingAndGlyphs" stroke="#333" stroke-width="0.18">800</text>
<line x1="377.50" y1="456.04" x2="377.50" y2="477.20" stroke="#222" stroke-width="1.0"/>
<line x1="374.50" y1="456.04" x2="380.50" y2="456.04" stroke="#222" stroke-width="1.1"/>
<line x1="374.50" y1="477.20" x2="380.50" y2="477.20" stroke="#222" stroke-width="1.1"/>
<rect x="371.90" y="464.10" width="11.80" height="10.58" fill="#2d4f8c"/>
<line x1="371.90" y1="472.67" x2="383.70" y2="472.67" stroke="#16244a" stroke-width="1.4"/>
<line x1="392.50" y1="391.56" x2="392.50" y2="475.39" stroke="#222" stroke-width="1.0"/>
<line x1="389.50" y1="391.56" x2="395.50" y2="391.56" stroke="#222" stroke-width="1.1"/>
<line x1="389.50" y1="475.39" x2="395.50" y2="475.39" stroke="#222" stroke-width="1.1"/>
<rect x="386.60" y="462.09" width="11.80" height="8.06" fill="#b0062f"/>
<line x1="386.60" y1="465.61" x2="398.40" y2="465.61" stroke="#5a0a1e" stroke-width="1.4"/>
<text x="377.90" y="487.60" font-size="6.4" text-anchor="middle" fill="#333" stroke="#333" stroke-width="0.18">NR</text>
<text x="392.60" y="487.60" font-size="6.4" text-anchor="middle" fill="#333" stroke="#333" stroke-width="0.18">R</text>
<text x="384.90" y="378.80" font-size="5.3" text-anchor="middle" fill="#333" stroke="#333" stroke-width="0.18">IFN-γ</text>
<text x="384.90" y="385.30" font-size="5.6" text-anchor="middle" fill="#333" stroke="#333" stroke-width="0.18">FD = 2.8</text>
<line x1="421.00" y1="388.30" x2="421.00" y2="481.00" stroke="#1a1a1a" stroke-width="1.4"/>
<line x1="420.30" y1="480.40" x2="453.00" y2="480.40" stroke="#1a1a1a" stroke-width="1.3"/>
<line x1="417.80" y1="477.90" x2="421.00" y2="477.90" stroke="#1a1a1a" stroke-width="1"/>
<text x="414.90" y="480.30" font-size="6.7" text-anchor="end" fill="#333" textLength="3.4" lengthAdjust="spacingAndGlyphs" stroke="#333" stroke-width="0.18">0</text>
<line x1="417.80" y1="450.90" x2="421.00" y2="450.90" stroke="#1a1a1a" stroke-width="1"/>
<text x="414.90" y="453.30" font-size="6.7" text-anchor="end" fill="#333" textLength="6.7" lengthAdjust="spacingAndGlyphs" stroke="#333" stroke-width="0.18">50</text>
<line x1="417.80" y1="423.90" x2="421.00" y2="423.90" stroke="#1a1a1a" stroke-width="1"/>
<text x="414.90" y="426.30" font-size="6.7" text-anchor="end" fill="#333" textLength="9.9" lengthAdjust="spacingAndGlyphs" stroke="#333" stroke-width="0.18">100</text>
<line x1="417.80" y1="396.90" x2="421.00" y2="396.90" stroke="#1a1a1a" stroke-width="1"/>
<text x="414.90" y="399.30" font-size="6.7" text-anchor="end" fill="#333" textLength="9.9" lengthAdjust="spacingAndGlyphs" stroke="#333" stroke-width="0.18">150</text>
<line x1="430.50" y1="397.98" x2="430.50" y2="476.82" stroke="#222" stroke-width="1.0"/>
<line x1="427.50" y1="397.98" x2="433.50" y2="397.98" stroke="#222" stroke-width="1.1"/>
<line x1="427.50" y1="476.82" x2="433.50" y2="476.82" stroke="#222" stroke-width="1.1"/>
<rect x="424.30" y="447.66" width="11.80" height="27.54" fill="#2d4f8c"/>
<line x1="424.30" y1="467.10" x2="436.10" y2="467.10" stroke="#16244a" stroke-width="1.4"/>
<line x1="444.50" y1="391.50" x2="444.50" y2="473.58" stroke="#222" stroke-width="1.0"/>
<line x1="441.50" y1="391.50" x2="447.50" y2="391.50" stroke="#222" stroke-width="1.1"/>
<line x1="441.50" y1="473.58" x2="447.50" y2="473.58" stroke="#222" stroke-width="1.1"/>
<rect x="439.00" y="421.74" width="11.80" height="38.34" fill="#b0062f"/>
<line x1="439.00" y1="450.36" x2="450.80" y2="450.36" stroke="#5a0a1e" stroke-width="1.4"/>
<text x="430.30" y="487.60" font-size="6.4" text-anchor="middle" fill="#333" stroke="#333" stroke-width="0.18">NR</text>
<text x="445.00" y="487.60" font-size="6.4" text-anchor="middle" fill="#333" stroke="#333" stroke-width="0.18">R</text>
<text x="437.30" y="378.80" font-size="5.3" text-anchor="middle" fill="#333" stroke="#333" stroke-width="0.18">IL-8</text>
<text x="437.30" y="385.30" font-size="5.6" text-anchor="middle" fill="#333" stroke="#333" stroke-width="0.18">FD = 2.5</text>
<line x1="473.60" y1="388.30" x2="473.60" y2="481.00" stroke="#1a1a1a" stroke-width="1.4"/>
<line x1="472.90" y1="480.40" x2="505.60" y2="480.40" stroke="#1a1a1a" stroke-width="1.3"/>
<line x1="470.40" y1="479.70" x2="473.60" y2="479.70" stroke="#1a1a1a" stroke-width="1"/>
<text x="467.50" y="482.10" font-size="6.7" text-anchor="end" fill="#333" textLength="3.4" lengthAdjust="spacingAndGlyphs" stroke="#333" stroke-width="0.18">0</text>
<line x1="470.40" y1="467.23" x2="473.60" y2="467.23" stroke="#1a1a1a" stroke-width="1"/>
<text x="467.50" y="469.63" font-size="6.7" text-anchor="end" fill="#333" textLength="6.7" lengthAdjust="spacingAndGlyphs" stroke="#333" stroke-width="0.18">50</text>
<line x1="470.40" y1="454.76" x2="473.60" y2="454.76" stroke="#1a1a1a" stroke-width="1"/>
<text x="467.50" y="457.16" font-size="6.7" text-anchor="end" fill="#333" textLength="9.9" lengthAdjust="spacingAndGlyphs" stroke="#333" stroke-width="0.18">100</text>
<line x1="470.40" y1="442.29" x2="473.60" y2="442.29" stroke="#1a1a1a" stroke-width="1"/>
<text x="467.50" y="444.69" font-size="6.7" text-anchor="end" fill="#333" textLength="9.9" lengthAdjust="spacingAndGlyphs" stroke="#333" stroke-width="0.18">150</text>
<line x1="470.40" y1="429.82" x2="473.60" y2="429.82" stroke="#1a1a1a" stroke-width="1"/>
<text x="467.50" y="432.22" font-size="6.7" text-anchor="end" fill="#333" textLength="9.9" lengthAdjust="spacingAndGlyphs" stroke="#333" stroke-width="0.18">200</text>
<line x1="470.40" y1="417.35" x2="473.60" y2="417.35" stroke="#1a1a1a" stroke-width="1"/>
<text x="467.50" y="419.75" font-size="6.7" text-anchor="end" fill="#333" textLength="9.9" lengthAdjust="spacingAndGlyphs" stroke="#333" stroke-width="0.18">250</text>
<line x1="470.40" y1="404.88" x2="473.60" y2="404.88" stroke="#1a1a1a" stroke-width="1"/>
<text x="467.50" y="407.28" font-size="6.7" text-anchor="end" fill="#333" textLength="9.9" lengthAdjust="spacingAndGlyphs" stroke="#333" stroke-width="0.18">300</text>
<line x1="470.40" y1="392.41" x2="473.60" y2="392.41" stroke="#1a1a1a" stroke-width="1"/>
<text x="467.50" y="394.81" font-size="6.7" text-anchor="end" fill="#333" textLength="9.9" lengthAdjust="spacingAndGlyphs" stroke="#333" stroke-width="0.18">350</text>
<line x1="482.50" y1="444.29" x2="482.50" y2="477.21" stroke="#222" stroke-width="1.0"/>
<line x1="479.50" y1="444.29" x2="485.50" y2="444.29" stroke="#222" stroke-width="1.1"/>
<line x1="479.50" y1="477.21" x2="485.50" y2="477.21" stroke="#222" stroke-width="1.1"/>
<rect x="476.90" y="456.11" width="11.80" height="19.70" fill="#2d4f8c"/>
<line x1="476.90" y1="461.00" x2="488.70" y2="461.00" stroke="#16244a" stroke-width="1.4"/>
<line x1="497.50" y1="390.41" x2="497.50" y2="476.46" stroke="#222" stroke-width="1.0"/>
<line x1="494.50" y1="390.41" x2="500.50" y2="390.41" stroke="#222" stroke-width="1.1"/>
<line x1="494.50" y1="476.46" x2="500.50" y2="476.46" stroke="#222" stroke-width="1.1"/>
<rect x="491.60" y="446.90" width="11.80" height="18.83" fill="#b0062f"/>
<line x1="491.60" y1="455.11" x2="503.40" y2="455.11" stroke="#5a0a1e" stroke-width="1.4"/>
<text x="482.90" y="487.60" font-size="6.4" text-anchor="middle" fill="#333" stroke="#333" stroke-width="0.18">NR</text>
<text x="497.60" y="487.60" font-size="6.4" text-anchor="middle" fill="#333" stroke="#333" stroke-width="0.18">R</text>
<text x="489.90" y="378.80" font-size="5.3" text-anchor="middle" fill="#333" stroke="#333" stroke-width="0.18">Granzyme B</text>
<text x="489.90" y="385.30" font-size="5.6" text-anchor="middle" fill="#333" stroke="#333" stroke-width="0.18">FD = 1.3</text>
<rect x="338.70" y="496.50" width="6.20" height="6.20" fill="#2d4f8c"/>
<text x="347.30" y="501.90" font-size="6.0" text-anchor="start" fill="#222" textLength="62" lengthAdjust="spacingAndGlyphs" stroke="#222" stroke-width="0.18">Non-responders (NR)</text>
<rect x="416.50" y="496.50" width="6.20" height="6.20" fill="#b0062f"/>
<text x="426.00" y="501.90" font-size="6.0" text-anchor="start" fill="#222" textLength="43" lengthAdjust="spacingAndGlyphs" stroke="#222" stroke-width="0.18">Responders (R)</text>
<rect x="0" y="0" width="520" height="1.4" fill="#000"/><rect x="0" y="0" width="1.6" height="510" fill="#000"/><rect x="518.4" y="0" width="1.6" height="510" fill="#000"/><rect x="0" y="508" width="520" height="2" fill="#000"/>
</svg>
</body></html>
